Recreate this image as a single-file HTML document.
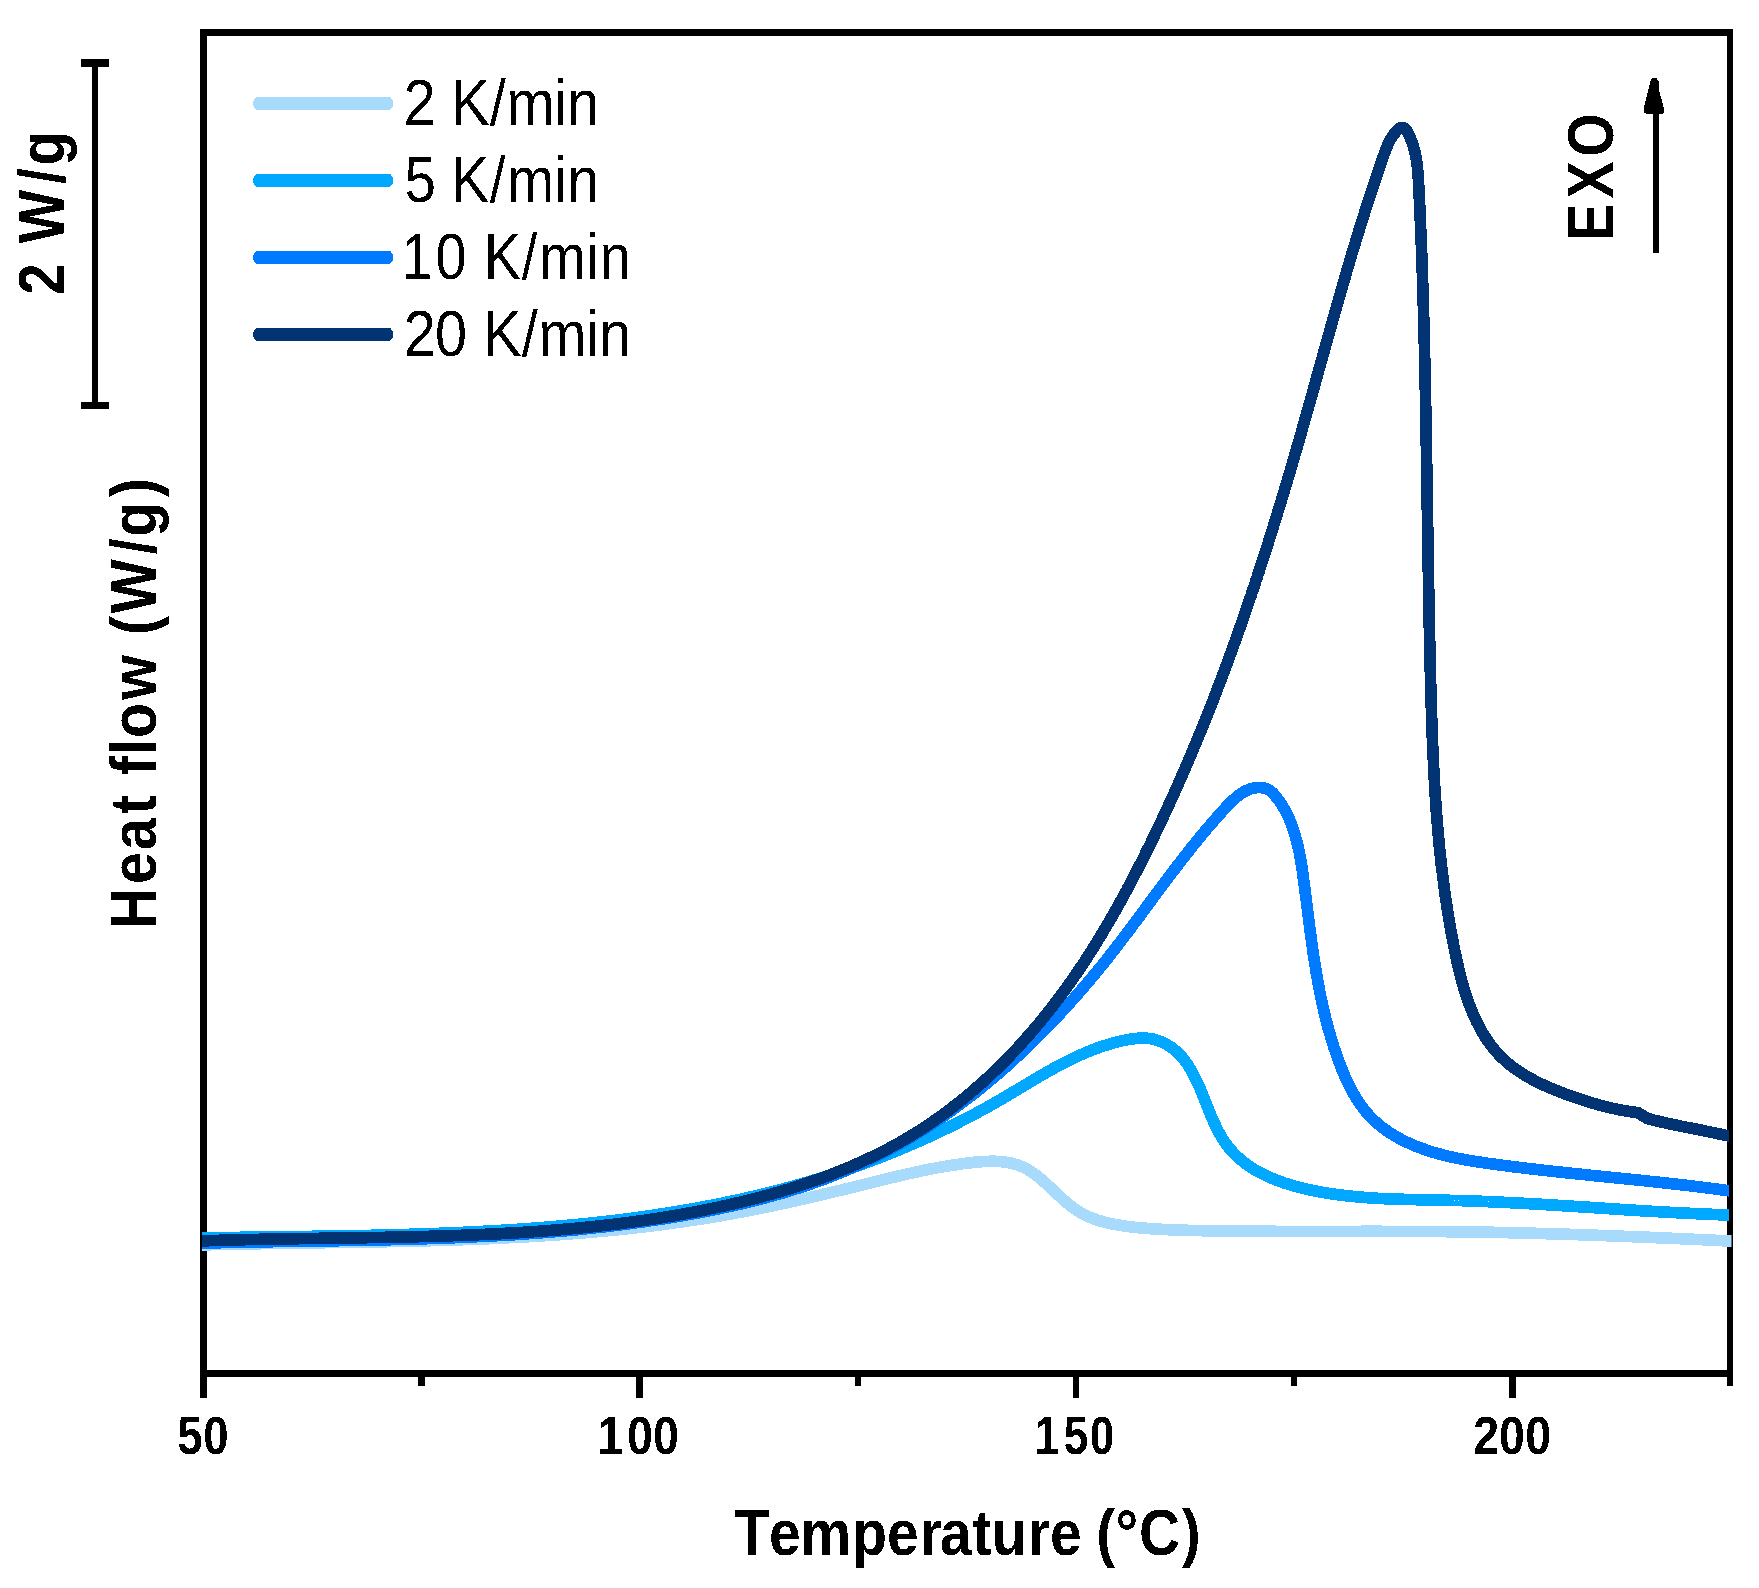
<!DOCTYPE html><html><head><meta charset="utf-8"><title>DSC heat flow</title><style>html,body{margin:0;padding:0;background:#fff;}svg{display:block;}</style></head><body><svg xmlns="http://www.w3.org/2000/svg" width="1759" height="1588" viewBox="0 0 1759 1588" shape-rendering="crispEdges"><defs><clipPath id="pc"><rect x="202" y="0" width="1527" height="1588"/></clipPath><clipPath id="pc2"><rect x="202" y="0" width="1529.5" height="1588"/></clipPath><filter id="bin" x="0" y="0" width="1759" height="1588" filterUnits="userSpaceOnUse"><feComponentTransfer><feFuncA type="discrete" tableValues="0 1"/></feComponentTransfer></filter></defs><rect width="1759" height="1588" fill="#fff"/><g fill="#000"><rect x="200.0" y="29.0" width="1533.0" height="7.0"/><rect x="200.0" y="1370.0" width="1533.0" height="7.0"/><rect x="200.0" y="29.0" width="7.0" height="1369.0"/><rect x="1726.6" y="29.0" width="6.4" height="1357.0"/><rect x="636.4" y="1377.0" width="6.6" height="21.0"/><rect x="1072.7" y="1377.0" width="6.6" height="21.0"/><rect x="1508.9" y="1377.0" width="6.6" height="21.0"/><rect x="418.3" y="1377.0" width="6.6" height="9.0"/><rect x="854.5" y="1377.0" width="6.6" height="9.0"/><rect x="1290.8" y="1377.0" width="6.6" height="9.0"/><rect x="92.0" y="63.0" width="6.0" height="342.0"/><rect x="81.0" y="59.0" width="28.0" height="7.8"/><rect x="81.0" y="401.5" width="28.0" height="7.5"/><rect x="1653.0" y="110.0" width="6.0" height="143.0"/><path d="M1652.3,77.9 L1656,77.9 L1658.9,81 L1658.9,90 L1664,108.5 L1664,112 L1662.5,113.8 L1646,113.8 L1644.2,112.5 L1644.2,106.3 L1651,79.4 Z"/></g>
<path clip-path="url(#pc2)" d="M190.0,1245.2 L202.0,1244.9 L204.0,1244.8 L206.0,1244.8 L208.0,1244.7 L210.0,1244.7 L212.0,1244.6 L214.0,1244.6 L216.0,1244.5 L218.0,1244.5 L220.0,1244.5 L222.0,1244.4 L224.0,1244.4 L226.0,1244.3 L228.0,1244.3 L230.0,1244.2 L232.0,1244.2 L234.0,1244.1 L236.0,1244.1 L238.0,1244.1 L240.0,1244.0 L242.0,1244.0 L244.0,1243.9 L246.0,1243.9 L248.0,1243.9 L250.0,1243.8 L252.0,1243.8 L254.0,1243.8 L256.0,1243.7 L258.0,1243.7 L260.0,1243.7 L262.0,1243.6 L264.0,1243.6 L266.0,1243.5 L268.0,1243.5 L270.0,1243.5 L272.0,1243.5 L274.0,1243.4 L276.0,1243.4 L278.0,1243.4 L280.0,1243.3 L282.0,1243.3 L284.0,1243.3 L286.0,1243.2 L288.0,1243.2 L290.0,1243.2 L292.0,1243.1 L294.0,1243.1 L296.1,1243.1 L298.1,1243.0 L300.1,1243.0 L302.1,1243.0 L304.1,1243.0 L306.1,1242.9 L308.1,1242.9 L310.1,1242.9 L312.1,1242.8 L314.1,1242.8 L316.1,1242.8 L318.1,1242.8 L320.1,1242.7 L322.1,1242.7 L324.1,1242.7 L326.1,1242.6 L328.1,1242.6 L330.1,1242.6 L332.1,1242.6 L334.1,1242.5 L336.1,1242.5 L338.1,1242.5 L340.1,1242.4 L342.1,1242.4 L344.1,1242.4 L346.1,1242.3 L348.1,1242.3 L350.2,1242.3 L352.2,1242.2 L354.2,1242.2 L356.2,1242.2 L358.2,1242.2 L360.2,1242.1 L362.2,1242.1 L364.2,1242.1 L366.2,1242.0 L368.2,1242.0 L370.2,1242.0 L372.2,1241.9 L374.2,1241.9 L376.2,1241.8 L378.2,1241.8 L380.2,1241.8 L382.2,1241.7 L384.2,1241.7 L386.2,1241.7 L388.2,1241.6 L390.2,1241.6 L392.2,1241.5 L394.2,1241.5 L396.3,1241.5 L398.3,1241.4 L400.3,1241.4 L402.3,1241.3 L404.3,1241.3 L406.3,1241.2 L408.3,1241.2 L410.3,1241.2 L412.3,1241.1 L414.3,1241.1 L416.3,1241.0 L418.3,1241.0 L420.3,1240.9 L422.3,1240.9 L424.3,1240.8 L426.3,1240.8 L428.3,1240.7 L430.3,1240.7 L432.3,1240.6 L434.3,1240.5 L436.3,1240.5 L438.3,1240.4 L440.3,1240.4 L442.3,1240.3 L444.3,1240.3 L446.3,1240.2 L448.3,1240.1 L450.3,1240.1 L452.3,1240.0 L454.3,1239.9 L456.4,1239.9 L458.4,1239.8 L460.4,1239.7 L462.4,1239.7 L464.4,1239.6 L466.4,1239.5 L468.4,1239.5 L470.4,1239.4 L472.4,1239.3 L474.4,1239.2 L476.4,1239.2 L478.4,1239.1 L480.4,1239.0 L482.4,1238.9 L484.4,1238.8 L486.4,1238.8 L488.4,1238.7 L490.4,1238.6 L492.4,1238.5 L494.4,1238.4 L496.4,1238.3 L498.4,1238.2 L500.4,1238.1 L502.4,1238.0 L504.4,1237.9 L506.4,1237.8 L508.4,1237.7 L510.4,1237.6 L512.4,1237.5 L514.4,1237.4 L516.4,1237.3 L518.4,1237.2 L520.4,1237.1 L522.4,1237.0 L524.4,1236.9 L526.4,1236.8 L528.4,1236.7 L530.4,1236.6 L532.4,1236.4 L534.4,1236.3 L536.4,1236.2 L538.4,1236.1 L540.4,1236.0 L542.4,1235.8 L544.4,1235.7 L546.4,1235.6 L548.3,1235.4 L550.3,1235.3 L552.3,1235.2 L554.3,1235.0 L556.3,1234.9 L558.3,1234.8 L560.3,1234.6 L562.3,1234.5 L564.3,1234.3 L566.3,1234.2 L568.3,1234.0 L570.3,1233.9 L572.3,1233.7 L574.3,1233.6 L576.3,1233.4 L578.3,1233.3 L580.3,1233.1 L582.3,1232.9 L584.3,1232.8 L586.3,1232.6 L588.3,1232.4 L590.2,1232.3 L592.2,1232.1 L594.2,1231.9 L596.2,1231.7 L598.2,1231.6 L600.2,1231.4 L602.2,1231.2 L604.2,1231.0 L606.2,1230.8 L608.2,1230.6 L610.2,1230.4 L612.2,1230.2 L614.1,1230.1 L616.1,1229.9 L618.1,1229.7 L620.1,1229.4 L622.1,1229.2 L624.1,1229.0 L626.1,1228.8 L628.1,1228.6 L630.1,1228.4 L632.1,1228.2 L634.0,1228.0 L636.0,1227.7 L638.0,1227.5 L640.0,1227.3 L642.0,1227.0 L644.0,1226.8 L646.0,1226.6 L648.0,1226.3 L649.9,1226.1 L651.9,1225.9 L653.9,1225.6 L655.9,1225.4 L657.9,1225.1 L659.9,1224.9 L661.8,1224.6 L663.8,1224.4 L665.8,1224.1 L667.8,1223.8 L669.8,1223.6 L671.8,1223.3 L673.8,1223.0 L675.7,1222.7 L677.7,1222.5 L679.7,1222.2 L681.7,1221.9 L683.7,1221.6 L685.6,1221.3 L687.6,1221.0 L689.6,1220.7 L691.6,1220.5 L693.6,1220.2 L695.5,1219.8 L697.5,1219.5 L699.5,1219.2 L701.5,1218.9 L703.5,1218.6 L705.4,1218.3 L707.4,1218.0 L709.4,1217.7 L711.4,1217.3 L713.4,1217.0 L715.3,1216.7 L717.3,1216.3 L719.3,1216.0 L721.3,1215.7 L723.2,1215.3 L725.2,1215.0 L727.2,1214.6 L729.2,1214.3 L731.1,1213.9 L733.1,1213.5 L735.1,1213.2 L737.1,1212.8 L739.0,1212.4 L741.0,1212.1 L743.0,1211.7 L744.9,1211.3 L746.9,1210.9 L748.9,1210.6 L750.9,1210.2 L752.8,1209.8 L754.8,1209.4 L756.8,1209.0 L758.7,1208.6 L760.7,1208.2 L762.7,1207.8 L764.6,1207.4 L766.6,1207.0 L768.6,1206.6 L770.5,1206.2 L772.5,1205.8 L774.5,1205.4 L776.4,1204.9 L778.4,1204.5 L780.4,1204.1 L782.3,1203.7 L784.3,1203.2 L786.3,1202.8 L788.2,1202.4 L790.2,1202.0 L792.1,1201.5 L794.1,1201.1 L796.1,1200.6 L798.0,1200.2 L800.0,1199.8 L801.9,1199.3 L803.9,1198.9 L805.8,1198.4 L807.8,1198.0 L809.7,1197.5 L811.7,1197.1 L813.6,1196.6 L815.6,1196.2 L817.6,1195.7 L819.5,1195.3 L821.5,1194.8 L823.4,1194.3 L825.3,1193.9 L827.3,1193.4 L829.2,1193.0 L831.2,1192.5 L833.1,1192.0 L835.1,1191.6 L837.0,1191.1 L839.0,1190.6 L840.9,1190.2 L842.8,1189.7 L844.8,1189.2 L846.7,1188.7 L848.7,1188.3 L850.6,1187.8 L852.5,1187.3 L854.5,1186.8 L856.4,1186.4 L858.3,1185.9 L860.3,1185.4 L862.2,1184.9 L864.1,1184.4 L866.1,1184.0 L868.0,1183.5 L869.9,1183.0 L871.9,1182.5 L873.8,1182.0 L875.7,1181.6 L877.6,1181.1 L879.6,1180.6 L881.5,1180.1 L883.4,1179.7 L885.4,1179.2 L887.3,1178.7 L889.2,1178.2 L891.1,1177.8 L893.1,1177.3 L895.0,1176.9 L896.9,1176.4 L898.9,1175.9 L900.8,1175.5 L902.7,1175.0 L904.7,1174.6 L906.6,1174.1 L908.6,1173.7 L910.5,1173.3 L912.5,1172.8 L914.4,1172.4 L916.3,1172.0 L918.3,1171.6 L920.3,1171.1 L922.2,1170.7 L924.2,1170.3 L926.1,1169.9 L928.1,1169.5 L930.1,1169.1 L932.0,1168.8 L934.0,1168.4 L936.0,1168.0 L937.9,1167.6 L939.9,1167.3 L941.9,1166.9 L943.9,1166.6 L945.9,1166.2 L947.9,1165.9 L949.9,1165.6 L951.9,1165.3 L953.9,1165.0 L955.9,1164.7 L957.9,1164.4 L959.9,1164.1 L961.9,1163.8 L964.0,1163.5 L966.0,1163.3 L968.0,1163.0 L970.1,1162.8 L972.1,1162.6 L974.2,1162.3 L976.2,1162.1 L978.3,1161.9 L980.3,1161.8 L982.4,1161.6 L984.4,1161.5 L986.5,1161.4 L988.5,1161.4 L990.5,1161.3 L992.5,1161.3 L994.6,1161.3 L996.6,1161.4 L998.6,1161.5 L1000.5,1161.6 L1002.5,1161.8 L1004.5,1162.0 L1006.4,1162.3 L1008.3,1162.6 L1010.3,1163.0 L1012.1,1163.4 L1014.0,1163.9 L1015.9,1164.4 L1017.7,1165.0 L1019.5,1165.7 L1021.3,1166.4 L1023.1,1167.1 L1024.8,1168.0 L1026.5,1168.9 L1028.2,1169.8 L1029.9,1170.9 L1031.5,1171.9 L1033.2,1173.0 L1034.8,1174.2 L1036.4,1175.4 L1038.0,1176.6 L1039.5,1177.9 L1041.1,1179.2 L1042.6,1180.5 L1044.1,1181.9 L1045.7,1183.2 L1047.2,1184.6 L1048.7,1186.0 L1050.2,1187.4 L1051.7,1188.8 L1053.2,1190.2 L1054.6,1191.6 L1056.1,1193.0 L1057.6,1194.4 L1059.1,1195.8 L1060.6,1197.2 L1062.1,1198.6 L1063.5,1199.9 L1065.0,1201.2 L1066.6,1202.5 L1068.1,1203.8 L1069.6,1205.0 L1071.2,1206.2 L1072.7,1207.4 L1074.3,1208.6 L1075.9,1209.7 L1077.5,1210.7 L1079.2,1211.8 L1080.9,1212.8 L1082.6,1213.7 L1084.3,1214.6 L1086.0,1215.5 L1087.8,1216.3 L1089.6,1217.1 L1091.4,1217.9 L1093.2,1218.6 L1095.1,1219.2 L1097.0,1219.9 L1098.9,1220.5 L1100.8,1221.1 L1102.7,1221.6 L1104.6,1222.2 L1106.6,1222.7 L1108.5,1223.1 L1110.5,1223.6 L1112.5,1224.0 L1114.5,1224.4 L1116.5,1224.7 L1118.5,1225.1 L1120.5,1225.4 L1122.5,1225.7 L1124.5,1226.0 L1126.5,1226.3 L1128.6,1226.6 L1130.6,1226.8 L1132.6,1227.0 L1134.6,1227.3 L1136.7,1227.5 L1138.7,1227.7 L1140.7,1227.9 L1142.7,1228.0 L1144.8,1228.2 L1146.8,1228.4 L1148.8,1228.5 L1150.8,1228.7 L1152.8,1228.8 L1154.8,1229.0 L1156.8,1229.1 L1158.8,1229.2 L1160.8,1229.3 L1162.8,1229.4 L1164.8,1229.5 L1166.8,1229.6 L1168.8,1229.7 L1170.8,1229.8 L1172.8,1229.9 L1174.8,1230.0 L1176.8,1230.0 L1178.8,1230.1 L1180.8,1230.2 L1182.7,1230.2 L1184.7,1230.3 L1186.7,1230.3 L1188.7,1230.4 L1190.7,1230.4 L1192.7,1230.5 L1194.7,1230.5 L1196.7,1230.5 L1198.7,1230.6 L1200.7,1230.6 L1202.6,1230.7 L1204.6,1230.7 L1206.6,1230.7 L1208.6,1230.8 L1210.6,1230.8 L1212.6,1230.8 L1214.6,1230.9 L1216.6,1230.9 L1218.6,1230.9 L1220.6,1230.9 L1222.6,1231.0 L1224.6,1231.0 L1226.5,1231.0 L1228.5,1231.0 L1230.5,1231.1 L1232.5,1231.1 L1234.5,1231.1 L1236.5,1231.1 L1238.5,1231.1 L1240.5,1231.2 L1242.5,1231.2 L1244.5,1231.2 L1246.5,1231.2 L1248.5,1231.2 L1250.5,1231.2 L1252.5,1231.2 L1254.5,1231.3 L1256.5,1231.3 L1258.5,1231.3 L1260.5,1231.3 L1262.5,1231.3 L1264.5,1231.3 L1266.5,1231.3 L1268.5,1231.3 L1270.5,1231.3 L1272.5,1231.3 L1274.5,1231.3 L1276.5,1231.4 L1278.5,1231.4 L1280.5,1231.4 L1282.5,1231.4 L1284.5,1231.4 L1286.5,1231.4 L1288.5,1231.4 L1290.5,1231.4 L1292.5,1231.4 L1294.5,1231.4 L1296.5,1231.4 L1298.5,1231.4 L1300.5,1231.4 L1302.5,1231.4 L1304.5,1231.4 L1306.5,1231.4 L1308.5,1231.4 L1310.5,1231.4 L1312.5,1231.4 L1314.5,1231.4 L1316.5,1231.4 L1318.5,1231.4 L1320.5,1231.4 L1322.5,1231.4 L1324.6,1231.4 L1326.6,1231.4 L1328.6,1231.4 L1330.6,1231.4 L1332.6,1231.4 L1334.6,1231.4 L1336.6,1231.4 L1338.6,1231.4 L1340.6,1231.4 L1342.6,1231.4 L1344.6,1231.4 L1346.6,1231.4 L1348.6,1231.4 L1350.6,1231.4 L1352.6,1231.4 L1354.6,1231.4 L1356.6,1231.4 L1358.6,1231.4 L1360.7,1231.4 L1362.7,1231.3 L1364.7,1231.3 L1366.7,1231.3 L1368.7,1231.3 L1370.7,1231.3 L1372.7,1231.3 L1374.7,1231.3 L1376.7,1231.3 L1378.7,1231.3 L1380.7,1231.3 L1382.7,1231.4 L1384.7,1231.4 L1386.7,1231.4 L1388.7,1231.4 L1390.7,1231.4 L1392.8,1231.4 L1394.8,1231.4 L1396.8,1231.4 L1398.8,1231.4 L1400.8,1231.4 L1402.8,1231.4 L1404.8,1231.4 L1406.8,1231.4 L1408.8,1231.4 L1410.8,1231.4 L1412.8,1231.4 L1414.8,1231.4 L1416.8,1231.4 L1418.8,1231.4 L1420.8,1231.5 L1422.8,1231.5 L1424.9,1231.5 L1426.9,1231.5 L1428.9,1231.5 L1430.9,1231.5 L1432.9,1231.5 L1434.9,1231.5 L1436.9,1231.6 L1438.9,1231.6 L1440.9,1231.6 L1442.9,1231.6 L1444.9,1231.6 L1446.9,1231.7 L1448.9,1231.7 L1450.9,1231.7 L1452.9,1231.7 L1454.9,1231.7 L1456.9,1231.8 L1458.9,1231.8 L1460.9,1231.8 L1462.9,1231.8 L1465.0,1231.9 L1467.0,1231.9 L1469.0,1231.9 L1471.0,1232.0 L1473.0,1232.0 L1475.0,1232.0 L1477.0,1232.1 L1479.0,1232.1 L1481.0,1232.1 L1483.0,1232.2 L1485.0,1232.2 L1487.0,1232.2 L1489.0,1232.3 L1491.0,1232.3 L1493.0,1232.3 L1495.0,1232.4 L1497.0,1232.4 L1499.0,1232.5 L1501.0,1232.5 L1503.0,1232.6 L1505.0,1232.6 L1507.0,1232.6 L1509.0,1232.7 L1511.0,1232.7 L1513.0,1232.8 L1515.0,1232.8 L1517.0,1232.9 L1519.0,1232.9 L1521.0,1233.0 L1523.0,1233.0 L1525.0,1233.1 L1527.0,1233.1 L1529.0,1233.2 L1531.0,1233.2 L1533.0,1233.3 L1535.0,1233.3 L1537.0,1233.4 L1539.0,1233.4 L1541.0,1233.5 L1543.0,1233.6 L1545.0,1233.6 L1547.0,1233.7 L1549.0,1233.7 L1551.0,1233.8 L1553.0,1233.8 L1555.0,1233.9 L1557.0,1234.0 L1559.0,1234.0 L1561.0,1234.1 L1563.0,1234.1 L1565.0,1234.2 L1567.0,1234.3 L1569.0,1234.3 L1571.0,1234.4 L1573.0,1234.5 L1575.0,1234.5 L1577.0,1234.6 L1579.0,1234.7 L1581.0,1234.7 L1583.0,1234.8 L1585.0,1234.9 L1587.0,1234.9 L1589.0,1235.0 L1591.0,1235.1 L1593.0,1235.2 L1595.0,1235.2 L1597.0,1235.3 L1599.0,1235.4 L1601.0,1235.4 L1603.0,1235.5 L1605.0,1235.6 L1607.0,1235.7 L1609.0,1235.7 L1611.0,1235.8 L1613.0,1235.9 L1615.0,1236.0 L1617.0,1236.0 L1619.0,1236.1 L1621.0,1236.2 L1623.0,1236.3 L1625.0,1236.4 L1627.0,1236.4 L1629.0,1236.5 L1631.0,1236.6 L1633.0,1236.7 L1635.0,1236.8 L1637.0,1236.8 L1639.0,1236.9 L1641.0,1237.0 L1643.0,1237.1 L1645.0,1237.2 L1647.0,1237.3 L1649.0,1237.3 L1651.0,1237.4 L1653.0,1237.5 L1655.0,1237.6 L1657.0,1237.7 L1659.0,1237.8 L1661.0,1237.8 L1663.0,1237.9 L1665.0,1238.0 L1667.0,1238.1 L1669.0,1238.2 L1671.0,1238.3 L1673.0,1238.4 L1675.0,1238.5 L1677.0,1238.5 L1679.0,1238.6 L1681.0,1238.7 L1683.0,1238.8 L1685.0,1238.9 L1687.0,1239.0 L1689.0,1239.1 L1691.0,1239.2 L1693.0,1239.3 L1695.0,1239.4 L1697.0,1239.5 L1699.0,1239.5 L1701.0,1239.6 L1703.0,1239.7 L1705.0,1239.8 L1707.0,1239.9 L1709.0,1240.0 L1711.0,1240.1 L1713.0,1240.2 L1715.0,1240.3 L1717.0,1240.4 L1719.0,1240.5 L1721.0,1240.6 L1723.0,1240.7 L1725.0,1240.8 L1727.0,1241.0 L1729.0,1241.1 L1731.0,1241.3 L1743.0,1242.2" fill="none" stroke="#A8DBFB" stroke-width="11.7" stroke-linejoin="round" stroke-linecap="butt"/>
<path clip-path="url(#pc)" d="M190.1,1238.2 L202.0,1238.0 L204.0,1238.0 L206.0,1237.9 L207.9,1237.9 L209.9,1237.9 L211.9,1237.8 L213.9,1237.8 L215.9,1237.7 L217.9,1237.7 L219.8,1237.7 L221.8,1237.6 L223.8,1237.6 L225.8,1237.6 L227.8,1237.6 L229.8,1237.5 L231.8,1237.5 L233.8,1237.5 L235.8,1237.4 L237.7,1237.4 L239.7,1237.4 L241.7,1237.3 L243.7,1237.3 L245.7,1237.3 L247.7,1237.3 L249.7,1237.2 L251.7,1237.2 L253.7,1237.2 L255.7,1237.1 L257.7,1237.1 L259.7,1237.1 L261.7,1237.1 L263.7,1237.0 L265.7,1237.0 L267.6,1237.0 L269.6,1236.9 L271.6,1236.9 L273.6,1236.9 L275.6,1236.9 L277.6,1236.8 L279.6,1236.8 L281.6,1236.8 L283.6,1236.8 L285.6,1236.7 L287.6,1236.7 L289.6,1236.7 L291.6,1236.7 L293.6,1236.6 L295.6,1236.6 L297.6,1236.6 L299.7,1236.5 L301.7,1236.5 L303.7,1236.5 L305.7,1236.5 L307.7,1236.4 L309.7,1236.4 L311.7,1236.4 L313.7,1236.3 L315.7,1236.3 L317.7,1236.3 L319.7,1236.3 L321.7,1236.2 L323.7,1236.2 L325.7,1236.2 L327.7,1236.1 L329.7,1236.1 L331.7,1236.1 L333.8,1236.0 L335.8,1236.0 L337.8,1236.0 L339.8,1235.9 L341.8,1235.9 L343.8,1235.9 L345.8,1235.8 L347.8,1235.8 L349.8,1235.8 L351.8,1235.7 L353.8,1235.7 L355.9,1235.6 L357.9,1235.6 L359.9,1235.6 L361.9,1235.5 L363.9,1235.5 L365.9,1235.4 L367.9,1235.4 L369.9,1235.4 L371.9,1235.3 L374.0,1235.3 L376.0,1235.2 L378.0,1235.2 L380.0,1235.1 L382.0,1235.1 L384.0,1235.0 L386.0,1235.0 L388.0,1234.9 L390.1,1234.9 L392.1,1234.8 L394.1,1234.8 L396.1,1234.7 L398.1,1234.7 L400.1,1234.6 L402.1,1234.6 L404.1,1234.5 L406.2,1234.4 L408.2,1234.4 L410.2,1234.3 L412.2,1234.3 L414.2,1234.2 L416.2,1234.1 L418.2,1234.1 L420.2,1234.0 L422.3,1234.0 L424.3,1233.9 L426.3,1233.8 L428.3,1233.7 L430.3,1233.7 L432.3,1233.6 L434.3,1233.5 L436.4,1233.5 L438.4,1233.4 L440.4,1233.3 L442.4,1233.2 L444.4,1233.2 L446.4,1233.1 L448.4,1233.0 L450.5,1232.9 L452.5,1232.8 L454.5,1232.7 L456.5,1232.7 L458.5,1232.6 L460.5,1232.5 L462.5,1232.4 L464.5,1232.3 L466.6,1232.2 L468.6,1232.1 L470.6,1232.0 L472.6,1231.9 L474.6,1231.8 L476.6,1231.7 L478.6,1231.6 L480.6,1231.5 L482.6,1231.4 L484.7,1231.3 L486.7,1231.2 L488.7,1231.1 L490.7,1231.0 L492.7,1230.9 L494.7,1230.7 L496.7,1230.6 L498.7,1230.5 L500.7,1230.4 L502.8,1230.3 L504.8,1230.1 L506.8,1230.0 L508.8,1229.9 L510.8,1229.8 L512.8,1229.6 L514.8,1229.5 L516.8,1229.4 L518.8,1229.2 L520.8,1229.1 L522.8,1229.0 L524.8,1228.8 L526.9,1228.7 L528.9,1228.5 L530.9,1228.4 L532.9,1228.2 L534.9,1228.1 L536.9,1227.9 L538.9,1227.8 L540.9,1227.6 L542.9,1227.5 L544.9,1227.3 L546.9,1227.2 L548.9,1227.0 L550.9,1226.8 L552.9,1226.7 L554.9,1226.5 L556.9,1226.3 L558.9,1226.1 L560.9,1226.0 L562.9,1225.8 L564.9,1225.6 L566.9,1225.4 L568.9,1225.2 L570.9,1225.1 L572.9,1224.9 L574.9,1224.7 L576.9,1224.5 L578.9,1224.3 L580.9,1224.1 L582.9,1223.9 L584.9,1223.7 L586.9,1223.5 L588.9,1223.3 L590.9,1223.1 L592.9,1222.9 L594.9,1222.6 L596.9,1222.4 L598.9,1222.2 L600.9,1222.0 L602.9,1221.8 L604.9,1221.5 L606.8,1221.3 L608.8,1221.1 L610.8,1220.8 L612.8,1220.6 L614.8,1220.4 L616.8,1220.1 L618.8,1219.9 L620.8,1219.6 L622.8,1219.4 L624.7,1219.1 L626.7,1218.9 L628.7,1218.6 L630.7,1218.4 L632.7,1218.1 L634.7,1217.8 L636.7,1217.6 L638.6,1217.3 L640.6,1217.0 L642.6,1216.7 L644.6,1216.5 L646.6,1216.2 L648.6,1215.9 L650.5,1215.6 L652.5,1215.3 L654.5,1215.0 L656.5,1214.7 L658.4,1214.4 L660.4,1214.1 L662.4,1213.8 L664.4,1213.5 L666.4,1213.2 L668.3,1212.9 L670.3,1212.6 L672.3,1212.3 L674.2,1212.0 L676.2,1211.6 L678.2,1211.3 L680.2,1211.0 L682.1,1210.6 L684.1,1210.3 L686.1,1210.0 L688.0,1209.6 L690.0,1209.3 L692.0,1208.9 L693.9,1208.6 L695.9,1208.2 L697.9,1207.9 L699.8,1207.5 L701.8,1207.1 L703.7,1206.8 L705.7,1206.4 L707.7,1206.0 L709.6,1205.7 L711.6,1205.3 L713.5,1204.9 L715.5,1204.5 L717.5,1204.1 L719.4,1203.7 L721.4,1203.3 L723.3,1202.9 L725.3,1202.5 L727.2,1202.1 L729.2,1201.7 L731.1,1201.3 L733.1,1200.9 L735.0,1200.5 L737.0,1200.0 L738.9,1199.6 L740.9,1199.2 L742.8,1198.7 L744.8,1198.3 L746.7,1197.9 L748.7,1197.4 L750.6,1197.0 L752.5,1196.5 L754.5,1196.1 L756.4,1195.6 L758.4,1195.1 L760.3,1194.7 L762.2,1194.2 L764.2,1193.7 L766.1,1193.2 L768.0,1192.8 L770.0,1192.3 L771.9,1191.8 L773.8,1191.3 L775.8,1190.8 L777.7,1190.3 L779.6,1189.8 L781.6,1189.3 L783.5,1188.8 L785.4,1188.3 L787.3,1187.8 L789.3,1187.2 L791.2,1186.7 L793.1,1186.2 L795.0,1185.6 L796.9,1185.1 L798.9,1184.6 L800.8,1184.0 L802.7,1183.5 L804.6,1182.9 L806.5,1182.3 L808.4,1181.8 L810.4,1181.2 L812.3,1180.7 L814.2,1180.1 L816.1,1179.5 L818.0,1178.9 L819.9,1178.3 L821.8,1177.7 L823.7,1177.1 L825.6,1176.5 L827.5,1175.9 L829.4,1175.3 L831.3,1174.7 L833.2,1174.1 L835.1,1173.5 L837.0,1172.9 L838.9,1172.2 L840.8,1171.6 L842.7,1171.0 L844.6,1170.3 L846.5,1169.7 L848.4,1169.0 L850.3,1168.4 L852.2,1167.7 L854.1,1167.1 L855.9,1166.4 L857.8,1165.7 L859.7,1165.0 L861.6,1164.4 L863.5,1163.7 L865.4,1163.0 L867.2,1162.3 L869.1,1161.6 L871.0,1160.9 L872.9,1160.2 L874.7,1159.5 L876.6,1158.8 L878.5,1158.0 L880.4,1157.3 L882.2,1156.6 L884.1,1155.9 L886.0,1155.1 L887.8,1154.4 L889.7,1153.6 L891.5,1152.9 L893.4,1152.1 L895.3,1151.4 L897.1,1150.6 L899.0,1149.8 L900.8,1149.1 L902.7,1148.3 L904.5,1147.5 L906.4,1146.7 L908.2,1145.9 L910.1,1145.1 L911.9,1144.3 L913.8,1143.5 L915.6,1142.7 L917.5,1141.9 L919.3,1141.1 L921.1,1140.3 L923.0,1139.5 L924.8,1138.6 L926.6,1137.8 L928.5,1137.0 L930.3,1136.1 L932.1,1135.3 L933.9,1134.4 L935.8,1133.6 L937.6,1132.7 L939.4,1131.8 L941.2,1131.0 L943.0,1130.1 L944.8,1129.2 L946.7,1128.4 L948.5,1127.5 L950.3,1126.6 L952.1,1125.7 L953.9,1124.8 L955.7,1123.9 L957.5,1123.0 L959.3,1122.1 L961.1,1121.1 L962.9,1120.2 L964.7,1119.3 L966.5,1118.4 L968.2,1117.4 L970.0,1116.5 L971.8,1115.6 L973.6,1114.6 L975.4,1113.7 L977.2,1112.7 L978.9,1111.8 L980.7,1110.8 L982.5,1109.8 L984.2,1108.9 L986.0,1107.9 L987.8,1106.9 L989.5,1105.9 L991.3,1104.9 L993.0,1103.9 L994.8,1102.9 L996.6,1101.9 L998.3,1100.9 L1000.1,1099.9 L1001.8,1098.9 L1003.5,1097.9 L1005.3,1096.9 L1007.0,1095.8 L1008.8,1094.8 L1010.5,1093.8 L1012.2,1092.7 L1014.0,1091.7 L1015.7,1090.7 L1017.4,1089.6 L1019.2,1088.6 L1020.9,1087.6 L1022.6,1086.5 L1024.3,1085.5 L1026.1,1084.5 L1027.8,1083.4 L1029.5,1082.4 L1031.3,1081.4 L1033.0,1080.3 L1034.7,1079.3 L1036.5,1078.3 L1038.2,1077.3 L1039.9,1076.2 L1041.7,1075.2 L1043.4,1074.2 L1045.1,1073.2 L1046.9,1072.2 L1048.6,1071.2 L1050.4,1070.3 L1052.1,1069.3 L1053.9,1068.3 L1055.6,1067.4 L1057.4,1066.4 L1059.2,1065.5 L1060.9,1064.5 L1062.7,1063.6 L1064.5,1062.7 L1066.2,1061.8 L1068.0,1060.9 L1069.8,1060.0 L1071.6,1059.1 L1073.4,1058.2 L1075.2,1057.4 L1077.0,1056.5 L1078.8,1055.7 L1080.6,1054.9 L1082.4,1054.1 L1084.3,1053.3 L1086.1,1052.5 L1087.9,1051.7 L1089.8,1051.0 L1091.6,1050.3 L1093.5,1049.5 L1095.3,1048.8 L1097.2,1048.1 L1099.1,1047.5 L1100.9,1046.8 L1102.8,1046.2 L1104.7,1045.6 L1106.6,1045.0 L1108.6,1044.4 L1110.5,1043.8 L1112.4,1043.3 L1114.3,1042.7 L1116.3,1042.2 L1118.2,1041.8 L1120.2,1041.3 L1122.2,1040.8 L1124.2,1040.4 L1126.1,1040.0 L1128.1,1039.6 L1130.1,1039.3 L1132.2,1039.0 L1134.2,1038.7 L1136.2,1038.5 L1138.2,1038.3 L1140.2,1038.2 L1142.2,1038.1 L1144.2,1038.1 L1146.1,1038.2 L1148.1,1038.4 L1150.0,1038.6 L1152.0,1038.9 L1153.9,1039.3 L1155.7,1039.8 L1157.6,1040.4 L1159.4,1041.0 L1161.2,1041.7 L1163.0,1042.5 L1164.8,1043.4 L1166.5,1044.3 L1168.1,1045.3 L1169.8,1046.3 L1171.4,1047.4 L1172.9,1048.5 L1174.4,1049.7 L1175.9,1051.0 L1177.3,1052.3 L1178.7,1053.6 L1180.0,1055.0 L1181.3,1056.4 L1182.6,1057.9 L1183.8,1059.4 L1185.0,1060.9 L1186.1,1062.5 L1187.3,1064.1 L1188.4,1065.8 L1189.4,1067.4 L1190.4,1069.1 L1191.4,1070.9 L1192.4,1072.6 L1193.4,1074.4 L1194.3,1076.2 L1195.2,1078.0 L1196.1,1079.9 L1197.0,1081.7 L1197.9,1083.6 L1198.7,1085.5 L1199.6,1087.4 L1200.4,1089.3 L1201.2,1091.3 L1202.0,1093.2 L1202.8,1095.2 L1203.6,1097.1 L1204.4,1099.1 L1205.1,1101.1 L1205.9,1103.0 L1206.7,1105.0 L1207.5,1107.0 L1208.3,1108.9 L1209.1,1110.9 L1209.9,1112.8 L1210.7,1114.8 L1211.5,1116.7 L1212.3,1118.6 L1213.2,1120.6 L1214.0,1122.5 L1214.9,1124.3 L1215.8,1126.2 L1216.7,1128.1 L1217.6,1129.9 L1218.5,1131.7 L1219.5,1133.5 L1220.5,1135.2 L1221.5,1137.0 L1222.5,1138.7 L1223.6,1140.4 L1224.7,1142.0 L1225.8,1143.6 L1227.0,1145.2 L1228.2,1146.8 L1229.4,1148.3 L1230.7,1149.8 L1232.0,1151.2 L1233.3,1152.6 L1234.6,1154.0 L1236.0,1155.4 L1237.4,1156.7 L1238.8,1158.0 L1240.3,1159.3 L1241.7,1160.5 L1243.2,1161.8 L1244.8,1162.9 L1246.3,1164.1 L1247.9,1165.2 L1249.5,1166.3 L1251.1,1167.4 L1252.8,1168.5 L1254.4,1169.5 L1256.1,1170.5 L1257.8,1171.5 L1259.5,1172.4 L1261.3,1173.3 L1263.0,1174.2 L1264.8,1175.1 L1266.6,1176.0 L1268.4,1176.8 L1270.2,1177.6 L1272.1,1178.4 L1273.9,1179.1 L1275.8,1179.9 L1277.7,1180.6 L1279.6,1181.3 L1281.5,1182.0 L1283.4,1182.7 L1285.3,1183.3 L1287.2,1183.9 L1289.2,1184.5 L1291.1,1185.1 L1293.1,1185.7 L1295.1,1186.3 L1297.0,1186.8 L1299.0,1187.3 L1301.0,1187.8 L1303.0,1188.3 L1305.0,1188.8 L1307.0,1189.2 L1309.0,1189.7 L1311.0,1190.1 L1313.0,1190.5 L1315.0,1190.9 L1317.0,1191.3 L1319.0,1191.7 L1321.0,1192.1 L1323.0,1192.4 L1325.0,1192.8 L1327.1,1193.1 L1329.1,1193.4 L1331.1,1193.7 L1333.1,1194.0 L1335.1,1194.3 L1337.1,1194.6 L1339.1,1194.8 L1341.1,1195.1 L1343.1,1195.3 L1345.1,1195.6 L1347.1,1195.8 L1349.1,1196.0 L1351.0,1196.2 L1353.0,1196.4 L1355.0,1196.6 L1357.0,1196.8 L1359.0,1197.0 L1361.0,1197.2 L1363.0,1197.3 L1365.0,1197.5 L1367.0,1197.6 L1369.0,1197.8 L1371.0,1197.9 L1373.0,1198.0 L1375.0,1198.2 L1376.9,1198.3 L1378.9,1198.4 L1380.9,1198.5 L1382.9,1198.6 L1384.9,1198.7 L1386.9,1198.8 L1388.9,1198.9 L1390.9,1198.9 L1392.9,1199.0 L1394.8,1199.1 L1396.8,1199.2 L1398.8,1199.2 L1400.8,1199.3 L1402.8,1199.3 L1404.8,1199.4 L1406.8,1199.4 L1408.8,1199.5 L1410.7,1199.5 L1412.7,1199.6 L1414.7,1199.6 L1416.7,1199.7 L1418.7,1199.7 L1420.7,1199.8 L1422.7,1199.8 L1424.7,1199.8 L1426.6,1199.9 L1428.6,1199.9 L1430.6,1199.9 L1432.6,1200.0 L1434.6,1200.0 L1436.6,1200.1 L1438.6,1200.1 L1440.6,1200.1 L1442.6,1200.2 L1444.6,1200.2 L1446.6,1200.3 L1448.6,1200.3 L1450.5,1200.4 L1452.5,1200.4 L1454.5,1200.5 L1456.5,1200.5 L1458.5,1200.6 L1460.5,1200.6 L1462.5,1200.7 L1464.5,1200.8 L1466.5,1200.8 L1468.5,1200.9 L1470.5,1201.0 L1472.5,1201.0 L1474.5,1201.1 L1476.5,1201.2 L1478.5,1201.2 L1480.5,1201.3 L1482.5,1201.4 L1484.5,1201.5 L1486.5,1201.6 L1488.5,1201.7 L1490.5,1201.7 L1492.5,1201.8 L1494.5,1201.9 L1496.5,1202.0 L1498.5,1202.1 L1500.5,1202.2 L1502.5,1202.3 L1504.5,1202.4 L1506.6,1202.5 L1508.6,1202.6 L1510.6,1202.7 L1512.6,1202.8 L1514.6,1202.9 L1516.6,1203.0 L1518.6,1203.1 L1520.6,1203.2 L1522.6,1203.3 L1524.6,1203.4 L1526.6,1203.5 L1528.6,1203.6 L1530.6,1203.8 L1532.6,1203.9 L1534.7,1204.0 L1536.7,1204.1 L1538.7,1204.2 L1540.7,1204.3 L1542.7,1204.5 L1544.7,1204.6 L1546.7,1204.7 L1548.7,1204.8 L1550.7,1204.9 L1552.7,1205.1 L1554.7,1205.2 L1556.8,1205.3 L1558.8,1205.4 L1560.8,1205.6 L1562.8,1205.7 L1564.8,1205.8 L1566.8,1205.9 L1568.8,1206.1 L1570.8,1206.2 L1572.8,1206.3 L1574.9,1206.4 L1576.9,1206.6 L1578.9,1206.7 L1580.9,1206.8 L1582.9,1207.0 L1584.9,1207.1 L1586.9,1207.2 L1588.9,1207.3 L1590.9,1207.5 L1592.9,1207.6 L1595.0,1207.7 L1597.0,1207.9 L1599.0,1208.0 L1601.0,1208.1 L1603.0,1208.2 L1605.0,1208.4 L1607.0,1208.5 L1609.0,1208.6 L1611.0,1208.8 L1613.0,1208.9 L1615.0,1209.0 L1617.1,1209.2 L1619.1,1209.3 L1621.1,1209.4 L1623.1,1209.5 L1625.1,1209.7 L1627.1,1209.8 L1629.1,1209.9 L1631.1,1210.0 L1633.1,1210.2 L1635.1,1210.3 L1637.1,1210.4 L1639.1,1210.5 L1641.1,1210.7 L1643.2,1210.8 L1645.2,1210.9 L1647.2,1211.0 L1649.2,1211.1 L1651.2,1211.3 L1653.2,1211.4 L1655.2,1211.5 L1657.2,1211.6 L1659.2,1211.7 L1661.2,1211.9 L1663.2,1212.0 L1665.2,1212.1 L1667.2,1212.2 L1669.2,1212.3 L1671.2,1212.4 L1673.2,1212.5 L1675.2,1212.6 L1677.2,1212.7 L1679.2,1212.8 L1681.2,1212.9 L1683.2,1213.0 L1685.2,1213.1 L1687.2,1213.3 L1689.2,1213.3 L1691.2,1213.4 L1693.2,1213.5 L1695.2,1213.6 L1697.2,1213.7 L1699.2,1213.8 L1701.2,1213.9 L1703.1,1214.0 L1705.1,1214.1 L1707.1,1214.2 L1709.1,1214.3 L1711.1,1214.3 L1713.1,1214.4 L1715.1,1214.5 L1717.1,1214.6 L1719.1,1214.7 L1721.1,1214.7 L1723.0,1214.8 L1725.0,1214.9 L1727.0,1214.9 L1729.0,1215.0 L1740.9,1215.4" fill="none" stroke="#00A8FF" stroke-width="11.7" stroke-linejoin="round" stroke-linecap="butt"/>
<path clip-path="url(#pc)" d="M190.0,1243.4 L202.0,1243.1 L204.0,1243.0 L206.0,1243.0 L208.0,1242.9 L210.0,1242.9 L212.0,1242.8 L214.0,1242.8 L216.1,1242.8 L218.1,1242.7 L220.1,1242.7 L222.1,1242.6 L224.1,1242.6 L226.1,1242.5 L228.1,1242.5 L230.1,1242.4 L232.1,1242.4 L234.1,1242.4 L236.1,1242.3 L238.1,1242.3 L240.1,1242.2 L242.1,1242.2 L244.2,1242.2 L246.2,1242.1 L248.2,1242.1 L250.2,1242.1 L252.2,1242.0 L254.2,1242.0 L256.2,1241.9 L258.2,1241.9 L260.2,1241.9 L262.2,1241.8 L264.2,1241.8 L266.2,1241.8 L268.2,1241.7 L270.2,1241.7 L272.2,1241.7 L274.2,1241.6 L276.2,1241.6 L278.3,1241.6 L280.3,1241.6 L282.3,1241.5 L284.3,1241.5 L286.3,1241.5 L288.3,1241.4 L290.3,1241.4 L292.3,1241.4 L294.3,1241.3 L296.3,1241.3 L298.3,1241.3 L300.3,1241.2 L302.3,1241.2 L304.3,1241.2 L306.3,1241.2 L308.3,1241.1 L310.3,1241.1 L312.3,1241.1 L314.3,1241.0 L316.3,1241.0 L318.3,1241.0 L320.3,1240.9 L322.3,1240.9 L324.3,1240.9 L326.3,1240.8 L328.3,1240.8 L330.3,1240.8 L332.4,1240.8 L334.4,1240.7 L336.4,1240.7 L338.4,1240.7 L340.4,1240.6 L342.4,1240.6 L344.4,1240.6 L346.4,1240.5 L348.4,1240.5 L350.4,1240.5 L352.4,1240.4 L354.4,1240.4 L356.4,1240.3 L358.4,1240.3 L360.4,1240.3 L362.4,1240.2 L364.4,1240.2 L366.4,1240.2 L368.4,1240.1 L370.4,1240.1 L372.4,1240.0 L374.4,1240.0 L376.4,1240.0 L378.4,1239.9 L380.4,1239.9 L382.4,1239.8 L384.4,1239.8 L386.4,1239.7 L388.4,1239.7 L390.4,1239.7 L392.4,1239.6 L394.4,1239.6 L396.4,1239.5 L398.4,1239.5 L400.4,1239.4 L402.4,1239.4 L404.4,1239.3 L406.4,1239.3 L408.4,1239.2 L410.4,1239.2 L412.4,1239.1 L414.4,1239.0 L416.4,1239.0 L418.4,1238.9 L420.4,1238.9 L422.4,1238.8 L424.4,1238.7 L426.4,1238.7 L428.4,1238.6 L430.4,1238.6 L432.3,1238.5 L434.3,1238.4 L436.3,1238.4 L438.3,1238.3 L440.3,1238.2 L442.3,1238.1 L444.3,1238.1 L446.3,1238.0 L448.3,1237.9 L450.3,1237.9 L452.3,1237.8 L454.3,1237.7 L456.3,1237.6 L458.3,1237.5 L460.3,1237.5 L462.3,1237.4 L464.3,1237.3 L466.3,1237.2 L468.3,1237.1 L470.3,1237.0 L472.3,1236.9 L474.3,1236.8 L476.3,1236.7 L478.3,1236.6 L480.3,1236.6 L482.2,1236.5 L484.2,1236.4 L486.2,1236.3 L488.2,1236.1 L490.2,1236.0 L492.2,1235.9 L494.2,1235.8 L496.2,1235.7 L498.2,1235.6 L500.2,1235.5 L502.2,1235.4 L504.2,1235.3 L506.2,1235.1 L508.2,1235.0 L510.2,1234.9 L512.1,1234.8 L514.1,1234.7 L516.1,1234.5 L518.1,1234.4 L520.1,1234.3 L522.1,1234.1 L524.1,1234.0 L526.1,1233.9 L528.1,1233.7 L530.1,1233.6 L532.1,1233.4 L534.1,1233.3 L536.1,1233.2 L538.0,1233.0 L540.0,1232.9 L542.0,1232.7 L544.0,1232.5 L546.0,1232.4 L548.0,1232.2 L550.0,1232.1 L552.0,1231.9 L554.0,1231.7 L556.0,1231.6 L557.9,1231.4 L559.9,1231.2 L561.9,1231.1 L563.9,1230.9 L565.9,1230.7 L567.9,1230.5 L569.9,1230.3 L571.9,1230.2 L573.9,1230.0 L575.9,1229.8 L577.8,1229.6 L579.8,1229.4 L581.8,1229.2 L583.8,1229.0 L585.8,1228.8 L587.8,1228.6 L589.8,1228.4 L591.8,1228.2 L593.7,1228.0 L595.7,1227.7 L597.7,1227.5 L599.7,1227.3 L601.7,1227.1 L603.7,1226.9 L605.7,1226.6 L607.7,1226.4 L609.6,1226.2 L611.6,1225.9 L613.6,1225.7 L615.6,1225.5 L617.6,1225.2 L619.6,1225.0 L621.6,1224.7 L623.5,1224.5 L625.5,1224.2 L627.5,1224.0 L629.5,1223.7 L631.5,1223.4 L633.5,1223.2 L635.5,1222.9 L637.4,1222.6 L639.4,1222.4 L641.4,1222.1 L643.4,1221.8 L645.4,1221.5 L647.4,1221.2 L649.3,1220.9 L651.3,1220.6 L653.3,1220.3 L655.3,1220.0 L657.3,1219.7 L659.3,1219.4 L661.2,1219.1 L663.2,1218.8 L665.2,1218.5 L667.2,1218.2 L669.2,1217.9 L671.2,1217.6 L673.1,1217.2 L675.1,1216.9 L677.1,1216.6 L679.1,1216.2 L681.1,1215.9 L683.1,1215.5 L685.0,1215.2 L687.0,1214.8 L689.0,1214.5 L691.0,1214.1 L693.0,1213.8 L694.9,1213.4 L696.9,1213.1 L698.9,1212.7 L700.9,1212.3 L702.9,1211.9 L704.8,1211.5 L706.8,1211.2 L708.8,1210.8 L710.8,1210.4 L712.7,1210.0 L714.7,1209.6 L716.7,1209.2 L718.7,1208.8 L720.7,1208.4 L722.6,1207.9 L724.6,1207.5 L726.6,1207.1 L728.5,1206.7 L730.5,1206.2 L732.5,1205.8 L734.4,1205.4 L736.4,1204.9 L738.4,1204.5 L740.3,1204.0 L742.3,1203.6 L744.3,1203.1 L746.2,1202.6 L748.2,1202.1 L750.2,1201.7 L752.1,1201.2 L754.1,1200.7 L756.0,1200.2 L758.0,1199.7 L759.9,1199.2 L761.9,1198.7 L763.8,1198.2 L765.8,1197.7 L767.7,1197.1 L769.7,1196.6 L771.6,1196.1 L773.5,1195.5 L775.5,1195.0 L777.4,1194.4 L779.3,1193.9 L781.3,1193.3 L783.2,1192.8 L785.1,1192.2 L787.1,1191.6 L789.0,1191.0 L790.9,1190.4 L792.8,1189.8 L794.7,1189.2 L796.7,1188.6 L798.6,1188.0 L800.5,1187.4 L802.4,1186.8 L804.3,1186.2 L806.2,1185.5 L808.1,1184.9 L810.0,1184.2 L811.9,1183.6 L813.8,1182.9 L815.7,1182.2 L817.6,1181.6 L819.4,1180.9 L821.3,1180.2 L823.2,1179.5 L825.1,1178.8 L826.9,1178.1 L828.8,1177.4 L830.7,1176.7 L832.5,1175.9 L834.4,1175.2 L836.3,1174.5 L838.1,1173.7 L840.0,1173.0 L841.8,1172.2 L843.7,1171.4 L845.5,1170.7 L847.3,1169.9 L849.2,1169.1 L851.0,1168.3 L852.8,1167.5 L854.7,1166.7 L856.5,1165.9 L858.3,1165.0 L860.1,1164.2 L861.9,1163.4 L863.7,1162.5 L865.5,1161.7 L867.3,1160.8 L869.1,1159.9 L870.9,1159.1 L872.7,1158.2 L874.5,1157.3 L876.3,1156.4 L878.0,1155.5 L879.8,1154.6 L881.6,1153.7 L883.4,1152.8 L885.1,1151.8 L886.9,1150.9 L888.6,1149.9 L890.4,1149.0 L892.2,1148.0 L893.9,1147.1 L895.6,1146.1 L897.4,1145.1 L899.1,1144.2 L900.9,1143.2 L902.6,1142.2 L904.3,1141.2 L906.0,1140.2 L907.7,1139.2 L909.5,1138.1 L911.2,1137.1 L912.9,1136.1 L914.6,1135.0 L916.3,1134.0 L918.0,1133.0 L919.7,1131.9 L921.4,1130.8 L923.1,1129.8 L924.7,1128.7 L926.4,1127.6 L928.1,1126.5 L929.8,1125.4 L931.4,1124.3 L933.1,1123.2 L934.8,1122.1 L936.4,1121.0 L938.1,1119.9 L939.7,1118.8 L941.4,1117.6 L943.0,1116.5 L944.7,1115.4 L946.3,1114.2 L947.9,1113.1 L949.6,1111.9 L951.2,1110.7 L952.8,1109.6 L954.4,1108.4 L956.1,1107.2 L957.7,1106.0 L959.3,1104.8 L960.9,1103.6 L962.5,1102.4 L964.1,1101.2 L965.7,1100.0 L967.3,1098.8 L968.9,1097.6 L970.5,1096.4 L972.0,1095.1 L973.6,1093.9 L975.2,1092.7 L976.8,1091.4 L978.3,1090.2 L979.9,1088.9 L981.4,1087.6 L983.0,1086.4 L984.6,1085.1 L986.1,1083.8 L987.7,1082.6 L989.2,1081.3 L990.7,1080.0 L992.3,1078.7 L993.8,1077.4 L995.3,1076.1 L996.9,1074.8 L998.4,1073.5 L999.9,1072.2 L1001.4,1070.8 L1002.9,1069.5 L1004.4,1068.2 L1005.9,1066.9 L1007.4,1065.5 L1008.9,1064.2 L1010.4,1062.8 L1011.9,1061.5 L1013.4,1060.1 L1014.9,1058.8 L1016.3,1057.4 L1017.8,1056.0 L1019.3,1054.7 L1020.8,1053.3 L1022.2,1051.9 L1023.7,1050.5 L1025.1,1049.2 L1026.6,1047.8 L1028.0,1046.4 L1029.5,1045.0 L1030.9,1043.6 L1032.4,1042.2 L1033.8,1040.8 L1035.2,1039.4 L1036.7,1037.9 L1038.1,1036.5 L1039.5,1035.1 L1040.9,1033.7 L1042.3,1032.3 L1043.8,1030.8 L1045.2,1029.4 L1046.6,1028.0 L1048.0,1026.5 L1049.4,1025.1 L1050.8,1023.6 L1052.1,1022.2 L1053.5,1020.7 L1054.9,1019.3 L1056.3,1017.8 L1057.7,1016.3 L1059.0,1014.9 L1060.4,1013.4 L1061.8,1011.9 L1063.1,1010.4 L1064.5,1009.0 L1065.8,1007.5 L1067.2,1006.0 L1068.5,1004.5 L1069.9,1003.0 L1071.2,1001.5 L1072.5,1000.0 L1073.9,998.5 L1075.2,997.0 L1076.5,995.5 L1077.9,994.0 L1079.2,992.5 L1080.5,991.0 L1081.8,989.5 L1083.1,988.0 L1084.4,986.5 L1085.7,984.9 L1087.0,983.4 L1088.3,981.9 L1089.6,980.4 L1090.9,978.8 L1092.1,977.3 L1093.4,975.8 L1094.7,974.2 L1096.0,972.7 L1097.2,971.2 L1098.5,969.6 L1099.7,968.1 L1101.0,966.5 L1102.3,965.0 L1103.5,963.4 L1104.7,961.9 L1106.0,960.3 L1107.2,958.8 L1108.5,957.2 L1109.7,955.6 L1110.9,954.1 L1112.1,952.5 L1113.4,950.9 L1114.6,949.4 L1115.8,947.8 L1117.0,946.2 L1118.2,944.7 L1119.4,943.1 L1120.6,941.5 L1121.8,940.0 L1123.0,938.4 L1124.2,936.8 L1125.4,935.2 L1126.6,933.6 L1127.8,932.1 L1129.0,930.5 L1130.2,928.9 L1131.4,927.3 L1132.6,925.7 L1133.7,924.1 L1134.9,922.5 L1136.1,921.0 L1137.3,919.4 L1138.5,917.8 L1139.7,916.2 L1140.8,914.6 L1142.0,913.0 L1143.2,911.4 L1144.4,909.8 L1145.6,908.2 L1146.7,906.6 L1147.9,905.0 L1149.1,903.4 L1150.3,901.8 L1151.5,900.2 L1152.7,898.6 L1153.8,897.0 L1155.0,895.4 L1156.2,893.8 L1157.4,892.2 L1158.6,890.6 L1159.8,889.0 L1161.0,887.4 L1162.2,885.8 L1163.4,884.2 L1164.5,882.6 L1165.7,881.0 L1166.9,879.4 L1168.2,877.8 L1169.4,876.2 L1170.6,874.6 L1171.8,873.0 L1173.0,871.5 L1174.2,869.9 L1175.4,868.3 L1176.6,866.7 L1177.9,865.1 L1179.1,863.5 L1180.3,861.9 L1181.6,860.3 L1182.8,858.7 L1184.1,857.1 L1185.3,855.5 L1186.5,853.9 L1187.8,852.3 L1189.1,850.7 L1190.3,849.1 L1191.6,847.5 L1192.9,845.9 L1194.1,844.4 L1195.4,842.8 L1196.7,841.2 L1198.0,839.6 L1199.3,838.0 L1200.6,836.4 L1201.9,834.9 L1203.2,833.3 L1204.6,831.7 L1205.9,830.1 L1207.2,828.5 L1208.5,827.0 L1209.9,825.4 L1211.2,823.8 L1212.6,822.2 L1214.0,820.7 L1215.3,819.1 L1216.7,817.5 L1218.1,816.0 L1219.5,814.4 L1220.9,812.9 L1222.3,811.3 L1223.7,809.7 L1225.1,808.2 L1226.5,806.7 L1228.0,805.1 L1229.4,803.6 L1230.9,802.2 L1232.4,800.8 L1233.9,799.4 L1235.4,798.0 L1236.9,796.8 L1238.5,795.5 L1240.0,794.4 L1241.6,793.3 L1243.2,792.3 L1244.9,791.3 L1246.5,790.5 L1248.2,789.8 L1249.9,789.1 L1251.7,788.6 L1253.4,788.1 L1255.2,787.8 L1257.1,787.6 L1258.9,787.5 L1260.8,787.6 L1262.7,787.8 L1264.5,788.2 L1266.3,788.8 L1268.1,789.5 L1269.7,790.5 L1271.2,791.6 L1272.7,792.9 L1274.0,794.3 L1275.3,795.8 L1276.5,797.4 L1277.7,798.9 L1278.9,800.5 L1280.0,802.1 L1281.1,803.8 L1282.2,805.4 L1283.2,807.1 L1284.2,808.8 L1285.1,810.5 L1286.0,812.2 L1286.9,813.9 L1287.7,815.7 L1288.6,817.5 L1289.4,819.2 L1290.1,821.0 L1290.9,822.9 L1291.6,824.7 L1292.2,826.5 L1292.9,828.4 L1293.5,830.3 L1294.1,832.1 L1294.7,834.0 L1295.3,835.9 L1295.8,837.9 L1296.3,839.8 L1296.8,841.7 L1297.3,843.7 L1297.8,845.6 L1298.2,847.6 L1298.6,849.6 L1299.1,851.5 L1299.5,853.5 L1299.8,855.5 L1300.2,857.5 L1300.6,859.5 L1300.9,861.5 L1301.2,863.5 L1301.6,865.5 L1301.9,867.6 L1302.2,869.6 L1302.5,871.6 L1302.8,873.6 L1303.0,875.7 L1303.3,877.7 L1303.6,879.7 L1303.9,881.7 L1304.1,883.8 L1304.4,885.8 L1304.7,887.8 L1304.9,889.8 L1305.2,891.9 L1305.4,893.9 L1305.7,895.9 L1305.9,897.9 L1306.2,899.9 L1306.5,902.0 L1306.7,904.0 L1307.0,906.0 L1307.2,908.0 L1307.5,910.0 L1307.7,912.0 L1308.0,914.0 L1308.2,916.0 L1308.5,918.0 L1308.7,920.0 L1309.0,922.0 L1309.3,924.0 L1309.5,926.0 L1309.8,928.0 L1310.0,930.0 L1310.3,932.0 L1310.6,934.0 L1310.8,936.0 L1311.1,938.0 L1311.4,939.9 L1311.6,941.9 L1311.9,943.9 L1312.2,945.9 L1312.5,947.9 L1312.8,949.9 L1313.0,951.8 L1313.3,953.8 L1313.6,955.8 L1313.9,957.8 L1314.2,959.7 L1314.5,961.7 L1314.8,963.7 L1315.1,965.6 L1315.5,967.6 L1315.8,969.6 L1316.1,971.5 L1316.4,973.5 L1316.8,975.4 L1317.1,977.4 L1317.5,979.4 L1317.8,981.3 L1318.2,983.3 L1318.5,985.2 L1318.9,987.2 L1319.3,989.1 L1319.6,991.1 L1320.0,993.0 L1320.4,995.0 L1320.8,996.9 L1321.2,998.8 L1321.6,1000.8 L1322.0,1002.7 L1322.4,1004.7 L1322.9,1006.6 L1323.3,1008.5 L1323.8,1010.5 L1324.2,1012.4 L1324.7,1014.3 L1325.1,1016.2 L1325.6,1018.2 L1326.1,1020.1 L1326.6,1022.0 L1327.1,1023.9 L1327.6,1025.8 L1328.1,1027.8 L1328.6,1029.7 L1329.2,1031.6 L1329.7,1033.5 L1330.3,1035.4 L1330.8,1037.3 L1331.4,1039.2 L1332.0,1041.1 L1332.6,1043.1 L1333.2,1045.0 L1333.8,1046.9 L1334.4,1048.8 L1335.1,1050.7 L1335.7,1052.6 L1336.4,1054.5 L1337.0,1056.3 L1337.7,1058.2 L1338.4,1060.1 L1339.1,1062.0 L1339.8,1063.9 L1340.5,1065.8 L1341.2,1067.7 L1342.0,1069.5 L1342.8,1071.4 L1343.5,1073.3 L1344.3,1075.1 L1345.1,1077.0 L1346.0,1078.8 L1346.8,1080.7 L1347.7,1082.5 L1348.6,1084.3 L1349.5,1086.1 L1350.4,1087.9 L1351.3,1089.6 L1352.3,1091.4 L1353.2,1093.2 L1354.2,1094.9 L1355.3,1096.6 L1356.3,1098.3 L1357.4,1100.0 L1358.5,1101.6 L1359.6,1103.3 L1360.7,1104.9 L1361.9,1106.5 L1363.1,1108.1 L1364.3,1109.7 L1365.5,1111.2 L1366.8,1112.7 L1368.1,1114.2 L1369.4,1115.7 L1370.8,1117.1 L1372.1,1118.5 L1373.6,1119.9 L1375.0,1121.3 L1376.5,1122.6 L1378.0,1123.9 L1379.5,1125.2 L1381.1,1126.5 L1382.6,1127.7 L1384.3,1128.9 L1385.9,1130.1 L1387.5,1131.2 L1389.2,1132.4 L1390.9,1133.5 L1392.6,1134.5 L1394.4,1135.6 L1396.1,1136.6 L1397.9,1137.6 L1399.7,1138.6 L1401.5,1139.6 L1403.3,1140.5 L1405.2,1141.4 L1407.0,1142.3 L1408.9,1143.1 L1410.8,1144.0 L1412.6,1144.8 L1414.5,1145.6 L1416.4,1146.4 L1418.3,1147.1 L1420.3,1147.8 L1422.2,1148.6 L1424.1,1149.2 L1426.0,1149.9 L1427.9,1150.6 L1429.9,1151.2 L1431.8,1151.8 L1433.7,1152.4 L1435.7,1153.0 L1437.6,1153.5 L1439.5,1154.0 L1441.5,1154.6 L1443.4,1155.1 L1445.3,1155.5 L1447.3,1156.0 L1449.2,1156.5 L1451.1,1156.9 L1453.1,1157.3 L1455.0,1157.8 L1457.0,1158.2 L1458.9,1158.6 L1460.9,1158.9 L1462.8,1159.3 L1464.7,1159.7 L1466.7,1160.0 L1468.6,1160.3 L1470.6,1160.7 L1472.5,1161.0 L1474.5,1161.3 L1476.4,1161.6 L1478.4,1161.9 L1480.3,1162.2 L1482.3,1162.5 L1484.3,1162.8 L1486.2,1163.1 L1488.2,1163.4 L1490.1,1163.6 L1492.1,1163.9 L1494.1,1164.2 L1496.0,1164.4 L1498.0,1164.7 L1500.0,1165.0 L1501.9,1165.2 L1503.9,1165.5 L1505.9,1165.8 L1507.8,1166.0 L1509.8,1166.3 L1511.8,1166.5 L1513.8,1166.8 L1515.7,1167.0 L1517.7,1167.3 L1519.7,1167.5 L1521.7,1167.7 L1523.7,1168.0 L1525.7,1168.2 L1527.6,1168.4 L1529.6,1168.7 L1531.6,1168.9 L1533.6,1169.1 L1535.6,1169.4 L1537.6,1169.6 L1539.6,1169.8 L1541.5,1170.1 L1543.5,1170.3 L1545.5,1170.5 L1547.5,1170.7 L1549.5,1170.9 L1551.5,1171.2 L1553.5,1171.4 L1555.5,1171.6 L1557.5,1171.8 L1559.5,1172.0 L1561.5,1172.2 L1563.5,1172.5 L1565.5,1172.7 L1567.5,1172.9 L1569.5,1173.1 L1571.5,1173.3 L1573.5,1173.5 L1575.5,1173.7 L1577.5,1173.9 L1579.5,1174.1 L1581.5,1174.3 L1583.5,1174.5 L1585.5,1174.7 L1587.5,1174.9 L1589.5,1175.2 L1591.5,1175.4 L1593.5,1175.6 L1595.5,1175.8 L1597.5,1176.0 L1599.5,1176.2 L1601.5,1176.4 L1603.5,1176.6 L1605.5,1176.8 L1607.5,1177.0 L1609.5,1177.2 L1611.5,1177.4 L1613.5,1177.6 L1615.5,1177.8 L1617.5,1178.0 L1619.5,1178.2 L1621.6,1178.4 L1623.6,1178.6 L1625.6,1178.8 L1627.6,1179.0 L1629.6,1179.2 L1631.6,1179.4 L1633.6,1179.6 L1635.6,1179.8 L1637.6,1180.0 L1639.6,1180.2 L1641.6,1180.4 L1643.6,1180.6 L1645.6,1180.9 L1647.6,1181.1 L1649.6,1181.3 L1651.6,1181.5 L1653.6,1181.7 L1655.6,1181.9 L1657.6,1182.1 L1659.6,1182.3 L1661.6,1182.6 L1663.6,1182.8 L1665.6,1183.0 L1667.6,1183.2 L1669.6,1183.4 L1671.6,1183.7 L1673.5,1183.9 L1675.5,1184.1 L1677.5,1184.3 L1679.5,1184.6 L1681.5,1184.8 L1683.5,1185.0 L1685.5,1185.2 L1687.5,1185.5 L1689.5,1185.7 L1691.5,1185.9 L1693.4,1186.2 L1695.4,1186.4 L1697.4,1186.7 L1699.4,1186.9 L1701.4,1187.2 L1703.4,1187.4 L1705.3,1187.6 L1707.3,1187.9 L1709.3,1188.2 L1711.3,1188.4 L1713.2,1188.7 L1715.2,1188.9 L1717.2,1189.2 L1719.2,1189.4 L1721.1,1189.7 L1723.1,1190.0 L1725.1,1190.3 L1727.0,1190.5 L1729.0,1190.8 L1740.8,1192.4" fill="none" stroke="#007AFF" stroke-width="11.7" stroke-linejoin="round" stroke-linecap="butt"/>
<path clip-path="url(#pc)" d="M190.0,1241.3 L202.0,1240.9 L204.0,1240.8 L206.0,1240.8 L208.0,1240.7 L210.0,1240.6 L212.0,1240.6 L214.0,1240.5 L216.0,1240.4 L218.0,1240.4 L220.0,1240.3 L222.0,1240.3 L224.0,1240.2 L226.0,1240.1 L228.0,1240.1 L230.0,1240.0 L232.0,1240.0 L234.0,1239.9 L236.0,1239.9 L238.0,1239.8 L240.0,1239.8 L242.0,1239.7 L244.0,1239.7 L246.0,1239.6 L248.0,1239.6 L250.0,1239.5 L252.0,1239.5 L254.0,1239.5 L256.0,1239.4 L258.0,1239.4 L260.0,1239.3 L262.0,1239.3 L264.0,1239.3 L266.0,1239.2 L268.0,1239.2 L270.0,1239.1 L272.0,1239.1 L274.0,1239.1 L276.0,1239.0 L278.0,1239.0 L280.0,1239.0 L282.0,1238.9 L284.0,1238.9 L286.0,1238.9 L288.0,1238.8 L290.0,1238.8 L292.0,1238.8 L294.0,1238.7 L296.0,1238.7 L298.0,1238.7 L300.0,1238.6 L302.0,1238.6 L304.0,1238.6 L306.0,1238.5 L308.0,1238.5 L310.0,1238.5 L312.0,1238.5 L314.1,1238.4 L316.1,1238.4 L318.1,1238.4 L320.1,1238.3 L322.1,1238.3 L324.1,1238.3 L326.1,1238.3 L328.1,1238.2 L330.1,1238.2 L332.1,1238.2 L334.1,1238.1 L336.1,1238.1 L338.1,1238.1 L340.1,1238.1 L342.1,1238.0 L344.1,1238.0 L346.1,1238.0 L348.1,1237.9 L350.1,1237.9 L352.1,1237.9 L354.2,1237.9 L356.2,1237.8 L358.2,1237.8 L360.2,1237.8 L362.2,1237.7 L364.2,1237.7 L366.2,1237.7 L368.2,1237.6 L370.2,1237.6 L372.2,1237.6 L374.2,1237.5 L376.2,1237.5 L378.2,1237.5 L380.2,1237.4 L382.2,1237.4 L384.2,1237.4 L386.2,1237.3 L388.2,1237.3 L390.2,1237.3 L392.3,1237.2 L394.3,1237.2 L396.3,1237.1 L398.3,1237.1 L400.3,1237.1 L402.3,1237.0 L404.3,1237.0 L406.3,1236.9 L408.3,1236.9 L410.3,1236.8 L412.3,1236.8 L414.3,1236.7 L416.3,1236.7 L418.3,1236.7 L420.3,1236.6 L422.3,1236.6 L424.3,1236.5 L426.3,1236.5 L428.3,1236.4 L430.3,1236.3 L432.3,1236.3 L434.3,1236.2 L436.3,1236.2 L438.4,1236.1 L440.4,1236.1 L442.4,1236.0 L444.4,1235.9 L446.4,1235.9 L448.4,1235.8 L450.4,1235.7 L452.4,1235.7 L454.4,1235.6 L456.4,1235.5 L458.4,1235.5 L460.4,1235.4 L462.4,1235.3 L464.4,1235.3 L466.4,1235.2 L468.4,1235.1 L470.4,1235.0 L472.4,1234.9 L474.4,1234.9 L476.4,1234.8 L478.4,1234.7 L480.4,1234.6 L482.4,1234.5 L484.4,1234.4 L486.4,1234.3 L488.4,1234.2 L490.4,1234.2 L492.4,1234.1 L494.4,1234.0 L496.4,1233.9 L498.4,1233.8 L500.4,1233.7 L502.4,1233.6 L504.4,1233.4 L506.4,1233.3 L508.4,1233.2 L510.4,1233.1 L512.4,1233.0 L514.4,1232.9 L516.4,1232.8 L518.4,1232.7 L520.4,1232.5 L522.4,1232.4 L524.4,1232.3 L526.4,1232.2 L528.4,1232.0 L530.4,1231.9 L532.4,1231.8 L534.4,1231.6 L536.4,1231.5 L538.3,1231.4 L540.3,1231.2 L542.3,1231.1 L544.3,1230.9 L546.3,1230.8 L548.3,1230.6 L550.3,1230.5 L552.3,1230.3 L554.3,1230.2 L556.3,1230.0 L558.3,1229.8 L560.3,1229.7 L562.3,1229.5 L564.3,1229.3 L566.3,1229.2 L568.2,1229.0 L570.2,1228.8 L572.2,1228.6 L574.2,1228.5 L576.2,1228.3 L578.2,1228.1 L580.2,1227.9 L582.2,1227.7 L584.2,1227.5 L586.2,1227.3 L588.1,1227.1 L590.1,1226.9 L592.1,1226.7 L594.1,1226.5 L596.1,1226.3 L598.1,1226.1 L600.1,1225.9 L602.0,1225.6 L604.0,1225.4 L606.0,1225.2 L608.0,1225.0 L610.0,1224.7 L612.0,1224.5 L614.0,1224.3 L615.9,1224.0 L617.9,1223.8 L619.9,1223.6 L621.9,1223.3 L623.9,1223.1 L625.9,1222.8 L627.8,1222.5 L629.8,1222.3 L631.8,1222.0 L633.8,1221.8 L635.8,1221.5 L637.7,1221.2 L639.7,1220.9 L641.7,1220.7 L643.7,1220.4 L645.7,1220.1 L647.6,1219.8 L649.6,1219.5 L651.6,1219.2 L653.6,1218.9 L655.5,1218.6 L657.5,1218.3 L659.5,1218.0 L661.5,1217.7 L663.4,1217.4 L665.4,1217.1 L667.4,1216.7 L669.4,1216.4 L671.3,1216.1 L673.3,1215.8 L675.3,1215.4 L677.3,1215.1 L679.2,1214.7 L681.2,1214.4 L683.2,1214.0 L685.1,1213.7 L687.1,1213.3 L689.1,1213.0 L691.0,1212.6 L693.0,1212.2 L695.0,1211.9 L696.9,1211.5 L698.9,1211.1 L700.9,1210.7 L702.8,1210.3 L704.8,1209.9 L706.8,1209.5 L708.7,1209.1 L710.7,1208.7 L712.7,1208.3 L714.6,1207.9 L716.6,1207.5 L718.6,1207.1 L720.5,1206.7 L722.5,1206.2 L724.4,1205.8 L726.4,1205.4 L728.4,1204.9 L730.3,1204.5 L732.3,1204.0 L734.2,1203.6 L736.2,1203.1 L738.1,1202.7 L740.1,1202.2 L742.1,1201.7 L744.0,1201.3 L746.0,1200.8 L747.9,1200.3 L749.9,1199.8 L751.8,1199.3 L753.8,1198.8 L755.7,1198.3 L757.7,1197.8 L759.6,1197.3 L761.6,1196.8 L763.5,1196.3 L765.4,1195.7 L767.4,1195.2 L769.3,1194.7 L771.3,1194.1 L773.2,1193.6 L775.1,1193.0 L777.1,1192.5 L779.0,1191.9 L780.9,1191.4 L782.9,1190.8 L784.8,1190.2 L786.7,1189.6 L788.6,1189.0 L790.6,1188.5 L792.5,1187.9 L794.4,1187.3 L796.3,1186.7 L798.2,1186.0 L800.1,1185.4 L802.0,1184.8 L803.9,1184.2 L805.8,1183.5 L807.8,1182.9 L809.7,1182.2 L811.6,1181.6 L813.4,1180.9 L815.3,1180.3 L817.2,1179.6 L819.1,1178.9 L821.0,1178.2 L822.9,1177.6 L824.8,1176.9 L826.6,1176.2 L828.5,1175.5 L830.4,1174.7 L832.3,1174.0 L834.1,1173.3 L836.0,1172.6 L837.9,1171.8 L839.7,1171.1 L841.6,1170.3 L843.4,1169.6 L845.3,1168.8 L847.1,1168.0 L849.0,1167.3 L850.8,1166.5 L852.6,1165.7 L854.5,1164.9 L856.3,1164.1 L858.1,1163.3 L860.0,1162.5 L861.8,1161.7 L863.6,1160.8 L865.4,1160.0 L867.2,1159.1 L869.0,1158.3 L870.8,1157.4 L872.6,1156.6 L874.4,1155.7 L876.2,1154.8 L878.0,1153.9 L879.8,1153.1 L881.6,1152.2 L883.3,1151.2 L885.1,1150.3 L886.9,1149.4 L888.6,1148.5 L890.4,1147.5 L892.1,1146.6 L893.9,1145.7 L895.6,1144.7 L897.4,1143.7 L899.1,1142.8 L900.8,1141.8 L902.6,1140.8 L904.3,1139.8 L906.0,1138.8 L907.7,1137.8 L909.4,1136.7 L911.2,1135.7 L912.9,1134.7 L914.6,1133.6 L916.2,1132.6 L917.9,1131.5 L919.6,1130.5 L921.3,1129.4 L923.0,1128.3 L924.6,1127.2 L926.3,1126.1 L928.0,1125.0 L929.6,1123.9 L931.3,1122.8 L932.9,1121.7 L934.5,1120.5 L936.2,1119.4 L937.8,1118.2 L939.4,1117.1 L941.1,1115.9 L942.7,1114.7 L944.3,1113.6 L945.9,1112.4 L947.5,1111.2 L949.1,1110.0 L950.7,1108.8 L952.3,1107.6 L953.8,1106.3 L955.4,1105.1 L957.0,1103.9 L958.6,1102.6 L960.1,1101.4 L961.7,1100.1 L963.2,1098.9 L964.8,1097.6 L966.3,1096.3 L967.9,1095.1 L969.4,1093.8 L970.9,1092.5 L972.5,1091.2 L974.0,1089.9 L975.5,1088.6 L977.0,1087.2 L978.5,1085.9 L980.0,1084.6 L981.5,1083.3 L983.0,1081.9 L984.5,1080.6 L986.0,1079.2 L987.4,1077.9 L988.9,1076.5 L990.4,1075.1 L991.8,1073.7 L993.3,1072.4 L994.7,1071.0 L996.2,1069.6 L997.6,1068.2 L999.0,1066.8 L1000.5,1065.4 L1001.9,1064.0 L1003.3,1062.5 L1004.7,1061.1 L1006.2,1059.7 L1007.6,1058.2 L1009.0,1056.8 L1010.4,1055.4 L1011.7,1053.9 L1013.1,1052.5 L1014.5,1051.0 L1015.9,1049.5 L1017.3,1048.1 L1018.6,1046.6 L1020.0,1045.1 L1021.3,1043.6 L1022.7,1042.1 L1024.0,1040.6 L1025.4,1039.1 L1026.7,1037.6 L1028.0,1036.1 L1029.4,1034.6 L1030.7,1033.1 L1032.0,1031.6 L1033.3,1030.0 L1034.6,1028.5 L1035.9,1027.0 L1037.2,1025.4 L1038.5,1023.9 L1039.8,1022.4 L1041.1,1020.8 L1042.3,1019.3 L1043.6,1017.7 L1044.9,1016.1 L1046.1,1014.6 L1047.4,1013.0 L1048.6,1011.4 L1049.9,1009.8 L1051.1,1008.3 L1052.3,1006.7 L1053.6,1005.1 L1054.8,1003.5 L1056.0,1001.9 L1057.2,1000.3 L1058.4,998.7 L1059.6,997.1 L1060.8,995.5 L1062.0,993.9 L1063.2,992.3 L1064.4,990.6 L1065.6,989.0 L1066.7,987.4 L1067.9,985.8 L1069.1,984.1 L1070.2,982.5 L1071.4,980.9 L1072.5,979.2 L1073.7,977.6 L1074.8,975.9 L1076.0,974.3 L1077.1,972.6 L1078.2,971.0 L1079.3,969.3 L1080.4,967.7 L1081.6,966.0 L1082.7,964.3 L1083.8,962.7 L1084.9,961.0 L1086.0,959.3 L1087.1,957.6 L1088.1,956.0 L1089.2,954.3 L1090.3,952.6 L1091.4,950.9 L1092.4,949.2 L1093.5,947.5 L1094.6,945.8 L1095.6,944.1 L1096.7,942.4 L1097.7,940.7 L1098.8,939.0 L1099.8,937.3 L1100.8,935.6 L1101.9,933.9 L1102.9,932.2 L1103.9,930.4 L1105.0,928.7 L1106.0,927.0 L1107.0,925.3 L1108.0,923.5 L1109.0,921.8 L1110.0,920.1 L1111.0,918.4 L1112.0,916.6 L1113.0,914.9 L1114.0,913.1 L1115.0,911.4 L1116.0,909.7 L1116.9,907.9 L1117.9,906.2 L1118.9,904.4 L1119.9,902.7 L1120.8,900.9 L1121.8,899.2 L1122.7,897.4 L1123.7,895.7 L1124.7,893.9 L1125.6,892.1 L1126.6,890.4 L1127.5,888.6 L1128.4,886.8 L1129.4,885.1 L1130.3,883.3 L1131.3,881.5 L1132.2,879.8 L1133.1,878.0 L1134.0,876.2 L1135.0,874.4 L1135.9,872.7 L1136.8,870.9 L1137.7,869.1 L1138.6,867.3 L1139.5,865.5 L1140.4,863.8 L1141.4,862.0 L1142.3,860.2 L1143.2,858.4 L1144.1,856.6 L1145.0,854.8 L1145.8,853.0 L1146.7,851.2 L1147.6,849.4 L1148.5,847.7 L1149.4,845.9 L1150.3,844.1 L1151.2,842.3 L1152.0,840.5 L1152.9,838.7 L1153.8,836.9 L1154.7,835.1 L1155.5,833.3 L1156.4,831.5 L1157.3,829.7 L1158.1,827.9 L1159.0,826.0 L1159.8,824.2 L1160.7,822.4 L1161.6,820.6 L1162.4,818.8 L1163.3,817.0 L1164.1,815.2 L1164.9,813.4 L1165.8,811.6 L1166.6,809.7 L1167.5,807.9 L1168.3,806.1 L1169.1,804.3 L1170.0,802.5 L1170.8,800.7 L1171.6,798.8 L1172.5,797.0 L1173.3,795.2 L1174.1,793.4 L1174.9,791.5 L1175.8,789.7 L1176.6,787.9 L1177.4,786.1 L1178.2,784.2 L1179.0,782.4 L1179.8,780.6 L1180.6,778.8 L1181.4,776.9 L1182.2,775.1 L1183.0,773.3 L1183.8,771.4 L1184.6,769.6 L1185.4,767.8 L1186.2,765.9 L1187.0,764.1 L1187.8,762.2 L1188.6,760.4 L1189.4,758.6 L1190.1,756.7 L1190.9,754.9 L1191.7,753.0 L1192.5,751.2 L1193.3,749.3 L1194.0,747.5 L1194.8,745.7 L1195.6,743.8 L1196.3,742.0 L1197.1,740.1 L1197.9,738.3 L1198.6,736.4 L1199.4,734.6 L1200.1,732.7 L1200.9,730.9 L1201.7,729.0 L1202.4,727.1 L1203.2,725.3 L1203.9,723.4 L1204.7,721.6 L1205.4,719.7 L1206.1,717.9 L1206.9,716.0 L1207.6,714.1 L1208.4,712.3 L1209.1,710.4 L1209.8,708.6 L1210.6,706.7 L1211.3,704.8 L1212.0,703.0 L1212.8,701.1 L1213.5,699.2 L1214.2,697.4 L1214.9,695.5 L1215.7,693.6 L1216.4,691.8 L1217.1,689.9 L1217.8,688.0 L1218.5,686.2 L1219.2,684.3 L1219.9,682.4 L1220.7,680.5 L1221.4,678.7 L1222.1,676.8 L1222.8,674.9 L1223.5,673.0 L1224.2,671.2 L1224.9,669.3 L1225.6,667.4 L1226.3,665.5 L1227.0,663.7 L1227.7,661.8 L1228.3,659.9 L1229.0,658.0 L1229.7,656.1 L1230.4,654.3 L1231.1,652.4 L1231.8,650.5 L1232.5,648.6 L1233.1,646.7 L1233.8,644.8 L1234.5,643.0 L1235.2,641.1 L1235.9,639.2 L1236.5,637.3 L1237.2,635.4 L1237.9,633.5 L1238.5,631.6 L1239.2,629.7 L1239.9,627.9 L1240.5,626.0 L1241.2,624.1 L1241.9,622.2 L1242.5,620.3 L1243.2,618.4 L1243.8,616.5 L1244.5,614.6 L1245.1,612.7 L1245.8,610.8 L1246.4,608.9 L1247.1,607.0 L1247.7,605.1 L1248.4,603.2 L1249.0,601.3 L1249.7,599.4 L1250.3,597.5 L1251.0,595.6 L1251.6,593.7 L1252.2,591.8 L1252.9,589.9 L1253.5,588.0 L1254.2,586.1 L1254.8,584.2 L1255.4,582.3 L1256.0,580.4 L1256.7,578.5 L1257.3,576.6 L1257.9,574.7 L1258.6,572.8 L1259.2,570.9 L1259.8,569.0 L1260.4,567.1 L1261.0,565.2 L1261.7,563.3 L1262.3,561.4 L1262.9,559.5 L1263.5,557.6 L1264.1,555.7 L1264.7,553.8 L1265.4,551.8 L1266.0,549.9 L1266.6,548.0 L1267.2,546.1 L1267.8,544.2 L1268.4,542.3 L1269.0,540.4 L1269.6,538.5 L1270.2,536.6 L1270.8,534.6 L1271.4,532.7 L1272.0,530.8 L1272.6,528.9 L1273.2,527.0 L1273.8,525.1 L1274.4,523.2 L1275.0,521.2 L1275.6,519.3 L1276.2,517.4 L1276.8,515.5 L1277.4,513.6 L1277.9,511.7 L1278.5,509.8 L1279.1,507.8 L1279.7,505.9 L1280.3,504.0 L1280.9,502.1 L1281.4,500.2 L1282.0,498.2 L1282.6,496.3 L1283.2,494.4 L1283.8,492.5 L1284.3,490.6 L1284.9,488.6 L1285.5,486.7 L1286.1,484.8 L1286.6,482.9 L1287.2,481.0 L1287.8,479.0 L1288.3,477.1 L1288.9,475.2 L1289.5,473.3 L1290.1,471.4 L1290.6,469.4 L1291.2,467.5 L1291.7,465.6 L1292.3,463.7 L1292.9,461.7 L1293.4,459.8 L1294.0,457.9 L1294.6,456.0 L1295.1,454.0 L1295.7,452.1 L1296.2,450.2 L1296.8,448.3 L1297.3,446.4 L1297.9,444.4 L1298.4,442.5 L1299.0,440.6 L1299.6,438.7 L1300.1,436.7 L1300.7,434.8 L1301.2,432.9 L1301.8,430.9 L1302.3,429.0 L1302.8,427.1 L1303.4,425.2 L1303.9,423.2 L1304.5,421.3 L1305.0,419.4 L1305.6,417.5 L1306.1,415.5 L1306.7,413.6 L1307.2,411.7 L1307.7,409.8 L1308.3,407.8 L1308.8,405.9 L1309.4,404.0 L1309.9,402.0 L1310.4,400.1 L1311.0,398.2 L1311.5,396.3 L1312.1,394.3 L1312.6,392.4 L1313.1,390.5 L1313.7,388.6 L1314.2,386.6 L1314.8,384.7 L1315.3,382.8 L1315.8,380.8 L1316.4,378.9 L1316.9,377.0 L1317.4,375.1 L1318.0,373.1 L1318.5,371.2 L1319.0,369.3 L1319.6,367.3 L1320.1,365.4 L1320.7,363.5 L1321.2,361.6 L1321.7,359.6 L1322.3,357.7 L1322.8,355.8 L1323.3,353.9 L1323.9,351.9 L1324.4,350.0 L1325.0,348.1 L1325.5,346.1 L1326.0,344.2 L1326.6,342.3 L1327.1,340.4 L1327.6,338.4 L1328.2,336.5 L1328.7,334.6 L1329.3,332.7 L1329.8,330.7 L1330.3,328.8 L1330.9,326.9 L1331.4,325.0 L1332.0,323.0 L1332.5,321.1 L1333.0,319.2 L1333.6,317.3 L1334.1,315.3 L1334.7,313.4 L1335.2,311.5 L1335.8,309.6 L1336.3,307.6 L1336.9,305.7 L1337.4,303.8 L1338.0,301.9 L1338.5,299.9 L1339.1,298.0 L1339.6,296.1 L1340.2,294.2 L1340.7,292.2 L1341.3,290.3 L1341.8,288.4 L1342.4,286.5 L1342.9,284.6 L1343.5,282.6 L1344.0,280.7 L1344.6,278.8 L1345.2,276.9 L1345.7,275.0 L1346.3,273.0 L1346.8,271.1 L1347.4,269.2 L1348.0,267.3 L1348.5,265.4 L1349.1,263.4 L1349.7,261.5 L1350.2,259.6 L1350.8,257.7 L1351.4,255.8 L1351.9,253.8 L1352.5,251.9 L1353.1,250.0 L1353.7,248.1 L1354.2,246.2 L1354.8,244.3 L1355.4,242.3 L1356.0,240.4 L1356.6,238.5 L1357.2,236.6 L1357.7,234.7 L1358.3,232.8 L1358.9,230.9 L1359.5,229.0 L1360.1,227.0 L1360.7,225.1 L1361.3,223.2 L1361.9,221.3 L1362.5,219.4 L1363.1,217.5 L1363.7,215.6 L1364.3,213.7 L1364.9,211.8 L1365.5,209.8 L1366.1,207.9 L1366.7,206.0 L1367.3,204.1 L1368.0,202.2 L1368.6,200.3 L1369.2,198.4 L1369.8,196.5 L1370.4,194.6 L1371.1,192.7 L1371.7,190.8 L1372.3,188.9 L1372.9,187.0 L1373.6,185.1 L1374.2,183.2 L1374.8,181.3 L1375.5,179.4 L1376.1,177.5 L1376.7,175.6 L1377.4,173.7 L1378.0,171.8 L1378.7,169.9 L1379.3,168.0 L1380.0,166.1 L1380.6,164.2 L1381.3,162.3 L1381.9,160.4 L1382.6,158.6 L1383.2,156.7 L1383.9,154.8 L1384.6,152.9 L1385.2,151.0 L1385.9,149.2 L1386.7,147.3 L1387.5,145.4 L1388.3,143.5 L1389.3,141.7 L1390.3,139.8 L1391.4,138.0 L1392.6,136.1 L1393.9,134.3 L1395.3,132.5 L1396.9,130.8 L1398.4,129.3 L1400.0,128.2 L1401.5,127.5 L1402.9,127.4 L1404.2,127.9 L1405.4,129.0 L1406.5,130.5 L1407.4,132.2 L1408.4,133.9 L1409.2,135.6 L1410.0,137.4 L1410.8,139.2 L1411.5,140.9 L1412.2,142.8 L1412.8,144.6 L1413.4,146.4 L1413.9,148.3 L1414.4,150.2 L1414.9,152.0 L1415.3,153.9 L1415.7,155.9 L1416.0,157.8 L1416.4,159.7 L1416.7,161.7 L1416.9,163.6 L1417.2,165.6 L1417.4,167.6 L1417.6,169.6 L1417.8,171.6 L1418.0,173.6 L1418.1,175.6 L1418.3,177.6 L1418.4,179.6 L1418.5,181.6 L1418.6,183.6 L1418.7,185.6 L1418.8,187.6 L1418.9,189.7 L1419.0,191.7 L1419.1,193.7 L1419.2,195.7 L1419.3,197.7 L1419.4,199.8 L1419.5,201.8 L1419.6,203.8 L1419.7,205.8 L1419.8,207.8 L1419.9,209.8 L1419.9,211.9 L1420.0,213.9 L1420.1,215.9 L1420.2,217.9 L1420.3,219.9 L1420.4,221.9 L1420.5,223.9 L1420.6,226.0 L1420.6,228.0 L1420.7,230.0 L1420.8,232.0 L1420.9,234.0 L1421.0,236.0 L1421.0,238.0 L1421.1,240.1 L1421.2,242.1 L1421.3,244.1 L1421.4,246.1 L1421.4,248.1 L1421.5,250.1 L1421.6,252.1 L1421.7,254.1 L1421.7,256.2 L1421.8,258.2 L1421.9,260.2 L1421.9,262.2 L1422.0,264.2 L1422.1,266.2 L1422.2,268.2 L1422.2,270.2 L1422.3,272.2 L1422.4,274.2 L1422.4,276.3 L1422.5,278.3 L1422.6,280.3 L1422.6,282.3 L1422.7,284.3 L1422.7,286.3 L1422.8,288.3 L1422.9,290.3 L1422.9,292.3 L1423.0,294.3 L1423.1,296.3 L1423.1,298.3 L1423.2,300.3 L1423.2,302.4 L1423.3,304.4 L1423.4,306.4 L1423.4,308.4 L1423.5,310.4 L1423.5,312.4 L1423.6,314.4 L1423.6,316.4 L1423.7,318.4 L1423.7,320.4 L1423.8,322.4 L1423.9,324.4 L1423.9,326.4 L1424.0,328.4 L1424.0,330.4 L1424.1,332.4 L1424.1,334.4 L1424.2,336.4 L1424.2,338.4 L1424.3,340.4 L1424.3,342.5 L1424.4,344.5 L1424.4,346.5 L1424.5,348.5 L1424.5,350.5 L1424.5,352.5 L1424.6,354.5 L1424.6,356.5 L1424.7,358.5 L1424.7,360.5 L1424.8,362.5 L1424.8,364.5 L1424.9,366.5 L1424.9,368.5 L1425.0,370.5 L1425.0,372.5 L1425.0,374.5 L1425.1,376.5 L1425.1,378.5 L1425.2,380.5 L1425.2,382.5 L1425.2,384.5 L1425.3,386.5 L1425.3,388.5 L1425.4,390.5 L1425.4,392.5 L1425.4,394.5 L1425.5,396.5 L1425.5,398.5 L1425.6,400.5 L1425.6,402.5 L1425.6,404.5 L1425.7,406.5 L1425.7,408.5 L1425.7,410.5 L1425.8,412.5 L1425.8,414.5 L1425.9,416.5 L1425.9,418.5 L1425.9,420.5 L1426.0,422.5 L1426.0,424.5 L1426.0,426.5 L1426.1,428.5 L1426.1,430.5 L1426.1,432.5 L1426.2,434.5 L1426.2,436.5 L1426.2,438.5 L1426.3,440.5 L1426.3,442.5 L1426.3,444.5 L1426.4,446.5 L1426.4,448.5 L1426.4,450.5 L1426.5,452.5 L1426.5,454.5 L1426.5,456.5 L1426.6,458.5 L1426.6,460.5 L1426.6,462.5 L1426.7,464.5 L1426.7,466.5 L1426.7,468.5 L1426.8,470.5 L1426.8,472.5 L1426.8,474.4 L1426.9,476.4 L1426.9,478.4 L1426.9,480.4 L1426.9,482.4 L1427.0,484.4 L1427.0,486.4 L1427.0,488.4 L1427.1,490.4 L1427.1,492.4 L1427.1,494.4 L1427.2,496.4 L1427.2,498.4 L1427.2,500.4 L1427.3,502.4 L1427.3,504.4 L1427.3,506.4 L1427.3,508.4 L1427.4,510.4 L1427.4,512.4 L1427.4,514.4 L1427.5,516.4 L1427.5,518.4 L1427.5,520.4 L1427.6,522.4 L1427.6,524.4 L1427.6,526.4 L1427.7,528.4 L1427.7,530.4 L1427.7,532.4 L1427.7,534.4 L1427.8,536.4 L1427.8,538.4 L1427.8,540.4 L1427.9,542.4 L1427.9,544.4 L1427.9,546.4 L1428.0,548.4 L1428.0,550.4 L1428.0,552.4 L1428.1,554.4 L1428.1,556.4 L1428.1,558.4 L1428.2,560.4 L1428.2,562.4 L1428.2,564.4 L1428.3,566.4 L1428.3,568.4 L1428.3,570.4 L1428.4,572.4 L1428.4,574.4 L1428.4,576.4 L1428.5,578.4 L1428.5,580.4 L1428.5,582.4 L1428.6,584.4 L1428.6,586.4 L1428.6,588.4 L1428.7,590.4 L1428.7,592.4 L1428.7,594.4 L1428.8,596.4 L1428.8,598.4 L1428.8,600.4 L1428.9,602.4 L1428.9,604.4 L1429.0,606.4 L1429.0,608.4 L1429.0,610.4 L1429.1,612.4 L1429.1,614.4 L1429.1,616.4 L1429.2,618.4 L1429.2,620.4 L1429.3,622.4 L1429.3,624.4 L1429.3,626.4 L1429.4,628.4 L1429.4,630.4 L1429.5,632.4 L1429.5,634.4 L1429.6,636.4 L1429.6,638.4 L1429.6,640.4 L1429.7,642.4 L1429.7,644.4 L1429.8,646.4 L1429.8,648.4 L1429.9,650.4 L1429.9,652.4 L1430.0,654.4 L1430.0,656.4 L1430.0,658.4 L1430.1,660.4 L1430.1,662.4 L1430.2,664.4 L1430.2,666.5 L1430.3,668.5 L1430.3,670.5 L1430.4,672.5 L1430.4,674.5 L1430.5,676.5 L1430.5,678.5 L1430.6,680.5 L1430.6,682.5 L1430.7,684.5 L1430.7,686.5 L1430.8,688.5 L1430.8,690.5 L1430.9,692.5 L1431.0,694.5 L1431.0,696.5 L1431.1,698.6 L1431.1,700.6 L1431.2,702.6 L1431.2,704.6 L1431.3,706.6 L1431.4,708.6 L1431.4,710.6 L1431.5,712.6 L1431.5,714.6 L1431.6,716.6 L1431.7,718.6 L1431.7,720.6 L1431.8,722.6 L1431.9,724.7 L1432.0,726.7 L1432.0,728.7 L1432.1,730.7 L1432.2,732.7 L1432.2,734.7 L1432.3,736.7 L1432.4,738.7 L1432.5,740.7 L1432.6,742.7 L1432.6,744.7 L1432.7,746.7 L1432.8,748.7 L1432.9,750.7 L1433.0,752.8 L1433.1,754.8 L1433.2,756.8 L1433.3,758.8 L1433.4,760.8 L1433.4,762.8 L1433.5,764.8 L1433.6,766.8 L1433.7,768.8 L1433.8,770.8 L1434.0,772.8 L1434.1,774.8 L1434.2,776.8 L1434.3,778.8 L1434.4,780.8 L1434.5,782.8 L1434.6,784.8 L1434.7,786.8 L1434.9,788.9 L1435.0,790.9 L1435.1,792.9 L1435.2,794.9 L1435.4,796.9 L1435.5,798.9 L1435.6,800.9 L1435.8,802.9 L1435.9,804.9 L1436.1,806.9 L1436.2,808.9 L1436.3,810.9 L1436.5,812.9 L1436.6,814.9 L1436.8,816.9 L1437.0,818.9 L1437.1,820.9 L1437.3,822.9 L1437.4,824.9 L1437.6,826.9 L1437.8,828.8 L1438.0,830.8 L1438.1,832.8 L1438.3,834.8 L1438.5,836.8 L1438.7,838.8 L1438.9,840.8 L1439.1,842.8 L1439.2,844.8 L1439.4,846.8 L1439.6,848.8 L1439.8,850.8 L1440.0,852.8 L1440.3,854.8 L1440.5,856.7 L1440.7,858.7 L1440.9,860.7 L1441.1,862.7 L1441.3,864.7 L1441.6,866.7 L1441.8,868.7 L1442.0,870.7 L1442.3,872.6 L1442.5,874.6 L1442.8,876.6 L1443.0,878.6 L1443.3,880.6 L1443.5,882.6 L1443.8,884.5 L1444.0,886.5 L1444.3,888.5 L1444.6,890.5 L1444.8,892.4 L1445.1,894.4 L1445.4,896.4 L1445.7,898.4 L1446.0,900.4 L1446.3,902.3 L1446.6,904.3 L1446.9,906.3 L1447.2,908.2 L1447.5,910.2 L1447.8,912.2 L1448.1,914.2 L1448.4,916.1 L1448.7,918.1 L1449.1,920.1 L1449.4,922.0 L1449.7,924.0 L1450.1,926.0 L1450.4,927.9 L1450.8,929.9 L1451.1,931.9 L1451.5,933.8 L1451.8,935.8 L1452.2,937.7 L1452.6,939.7 L1453.0,941.6 L1453.3,943.6 L1453.7,945.6 L1454.1,947.5 L1454.5,949.5 L1454.9,951.4 L1455.3,953.4 L1455.7,955.3 L1456.1,957.3 L1456.6,959.2 L1457.0,961.2 L1457.4,963.1 L1457.9,965.1 L1458.3,967.0 L1458.8,969.0 L1459.2,970.9 L1459.7,972.8 L1460.2,974.8 L1460.7,976.7 L1461.2,978.6 L1461.7,980.6 L1462.2,982.5 L1462.8,984.4 L1463.3,986.3 L1463.9,988.3 L1464.5,990.2 L1465.1,992.1 L1465.7,994.0 L1466.3,995.9 L1466.9,997.8 L1467.6,999.7 L1468.3,1001.6 L1469.0,1003.5 L1469.7,1005.4 L1470.4,1007.3 L1471.2,1009.2 L1471.9,1011.1 L1472.7,1012.9 L1473.5,1014.8 L1474.3,1016.7 L1475.2,1018.5 L1476.0,1020.4 L1476.9,1022.2 L1477.8,1024.0 L1478.8,1025.8 L1479.7,1027.6 L1480.7,1029.4 L1481.7,1031.2 L1482.7,1032.9 L1483.7,1034.6 L1484.8,1036.4 L1485.9,1038.1 L1487.0,1039.7 L1488.1,1041.4 L1489.3,1043.0 L1490.5,1044.6 L1491.7,1046.2 L1492.9,1047.8 L1494.2,1049.3 L1495.4,1050.8 L1496.8,1052.3 L1498.1,1053.8 L1499.4,1055.2 L1500.8,1056.6 L1502.2,1058.0 L1503.7,1059.4 L1505.1,1060.7 L1506.6,1062.0 L1508.1,1063.3 L1509.6,1064.5 L1511.2,1065.8 L1512.7,1067.0 L1514.3,1068.1 L1515.9,1069.3 L1517.6,1070.4 L1519.2,1071.5 L1520.9,1072.6 L1522.5,1073.7 L1524.2,1074.8 L1525.9,1075.8 L1527.6,1076.8 L1529.4,1077.8 L1531.1,1078.8 L1532.9,1079.7 L1534.7,1080.7 L1536.5,1081.6 L1538.3,1082.5 L1540.1,1083.4 L1541.9,1084.2 L1543.7,1085.1 L1545.6,1085.9 L1547.4,1086.8 L1549.2,1087.6 L1551.1,1088.4 L1553.0,1089.1 L1554.9,1089.9 L1556.7,1090.7 L1558.6,1091.4 L1560.5,1092.1 L1562.4,1092.9 L1564.3,1093.6 L1566.2,1094.3 L1568.1,1095.0 L1570.0,1095.6 L1571.9,1096.3 L1573.8,1097.0 L1575.7,1097.6 L1577.6,1098.3 L1579.5,1098.9 L1581.4,1099.5 L1583.3,1100.2 L1585.2,1100.8 L1587.1,1101.4 L1589.0,1102.0 L1590.9,1102.5 L1592.8,1103.1 L1594.7,1103.7 L1596.6,1104.2 L1598.5,1104.7 L1600.4,1105.3 L1602.3,1105.8 L1604.2,1106.3 L1606.1,1106.8 L1608.1,1107.2 L1610.0,1107.7 L1611.9,1108.2 L1613.9,1108.6 L1615.8,1109.0 L1617.8,1109.4 L1619.7,1109.8 L1621.7,1110.2 L1623.7,1110.5 L1625.6,1110.9 L1627.6,1111.2 L1629.6,1111.5 L1631.6,1111.8 L1633.6,1112.1 L1635.7,1112.4 L1637.7,1112.6 L1640.1,1114.0 L1642.5,1115.5 L1644.9,1117.0 L1647.3,1118.5 L1649.3,1119.0 L1651.4,1119.5 L1653.4,1120.1 L1655.4,1120.6 L1657.4,1121.0 L1659.5,1121.5 L1661.5,1122.0 L1663.5,1122.5 L1665.6,1122.9 L1667.6,1123.4 L1669.7,1123.8 L1671.7,1124.3 L1673.8,1124.7 L1675.8,1125.1 L1677.8,1125.5 L1679.9,1126.0 L1681.9,1126.4 L1684.0,1126.8 L1686.0,1127.2 L1688.1,1127.6 L1690.1,1128.0 L1692.2,1128.4 L1694.2,1128.8 L1696.3,1129.2 L1698.3,1129.6 L1700.4,1130.0 L1702.4,1130.5 L1704.5,1130.9 L1706.5,1131.3 L1708.6,1131.7 L1710.6,1132.1 L1712.7,1132.5 L1714.7,1133.0 L1716.8,1133.4 L1718.8,1133.8 L1720.8,1134.3 L1722.9,1134.7 L1724.9,1135.2 L1727.0,1135.6 L1729.0,1136.1 L1741.2,1138.9" fill="none" stroke="#023373" stroke-width="11.7" stroke-linejoin="round" stroke-linecap="butt"/>
<rect x="253.2" y="97.0" width="139.8" height="13" rx="4.1" ry="6.2" fill="#A8DBFB"/><rect x="253.2" y="174.0" width="139.8" height="13" rx="4.1" ry="6.2" fill="#00A8FF"/><rect x="253.2" y="251.0" width="139.8" height="13" rx="4.1" ry="6.2" fill="#007AFF"/><rect x="253.2" y="328.0" width="139.8" height="13" rx="4.1" ry="6.2" fill="#023373"/><g filter="url(#bin)" font-family="Liberation Sans, Arial, sans-serif" fill="#000" style="font-kerning:none"><text transform="translate(401.00,124.90) scale(0.8910,1)" x="2.8 39.0 56.3 99.5 118.4 171.9 186.4" y="0" font-size="65.0" font-weight="normal">2 K/min</text>
<text transform="translate(401.90,201.70) scale(0.8713,1)" x="2.9 39.0 57.0 100.9 120.6 174.9 190.0" y="0" font-size="65.0" font-weight="normal">5 K/min</text>
<text transform="translate(404.60,278.70) scale(0.8577,1)" x="-4.0 36.0 72.2 92.4 136.7 157.0 211.8 227.4" y="0" font-size="65.0" font-weight="normal">10 K/min</text>
<text transform="translate(401.30,355.50) scale(0.8849,1)" x="2.8 38.1 74.2 92.5 136.0 155.1 208.8 223.5" y="0" font-size="65.0" font-weight="normal">20 K/min</text>
<text transform="translate(730.70,1555.30) scale(0.8669,1)" x="4.3 44.1 80.5 140.2 180.2 218.3 241.4 278.8 301.2 342.9 368.4 404.8 421.6 444.0 470.9 520.3" y="0" font-size="65.6" font-weight="bold">Temperature (°C)</text>
<text transform="translate(173.80,1453.60) scale(0.8593,1)" x="3.9 34.4" y="0" font-size="53.0" font-weight="bold">50</text>
<text transform="translate(598.90,1453.60) scale(0.8807,1)" x="-1.6 32.0 61.4" y="0" font-size="53.0" font-weight="bold">100</text>
<text transform="translate(1034.90,1453.60) scale(0.8305,1)" x="-0.6 34.6 66.0" y="0" font-size="53.0" font-weight="bold">150</text>
<text transform="translate(1469.90,1453.60) scale(0.8768,1)" x="3.8 33.3 63.0" y="0" font-size="53.0" font-weight="bold">200</text>
<text transform="translate(155.90,928.90) rotate(-90) scale(0.8857,1)" x="-0.3 50.6 89.1 129.7 151.3 173.8 196.5 215.5 258.7 309.3 331.8 356.0 423.1 442.6 487.6" y="0" font-size="65.1" font-weight="bold">Heat flow (W/g)</text>
<text transform="translate(64.10,297.80) rotate(-90) scale(0.8761,1)" x="3.3 39.3 62.1 129.9 150.7" y="0" font-size="64.8" font-weight="bold">2 W/g</text>
<text transform="translate(1613.10,240.90) rotate(-90) scale(0.8500,1)" x="0.6 49.9 99.2" y="0" font-size="65.4" font-weight="bold">EXO</text></g></svg></body></html>
